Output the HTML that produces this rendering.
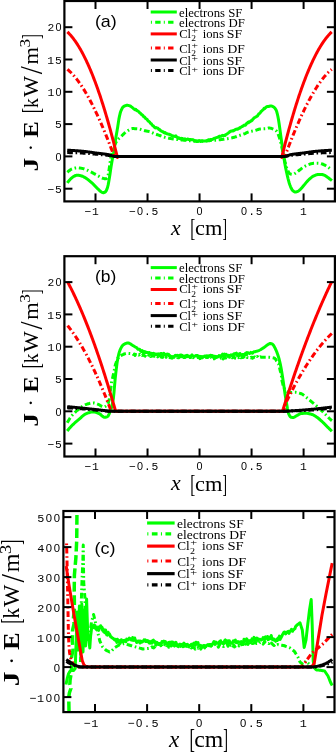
<!DOCTYPE html>
<html><head><meta charset="utf-8"><title>J·E profiles</title>
<style>html,body{margin:0;padding:0;background:#fff;width:336px;height:753px;overflow:hidden}svg{display:block}</style>
</head><body>
<svg width="336" height="753" viewBox="0 0 336 753"><defs><clipPath id="ca"><rect x="64.4" y="1.0" width="270.5" height="200.4"/></clipPath><clipPath id="cb"><rect x="64.4" y="256.2" width="270.5" height="200.3"/></clipPath><clipPath id="cc"><rect x="63.4" y="511.0" width="271.1" height="201.10000000000002"/></clipPath></defs><rect width="336" height="753" fill="#fff"/>
<polyline points="67.30,182.90 67.90,182.09 68.50,181.32 69.10,180.59 69.70,179.91 70.30,179.27 70.90,178.69 71.50,178.15 72.10,177.62 72.70,177.13 73.30,176.68 73.90,176.30 74.50,176.00 75.10,175.75 75.70,175.51 76.30,175.32 76.90,175.22 77.50,175.21 78.10,175.25 78.70,175.32 79.30,175.43 79.90,175.55 80.50,175.68 81.10,175.82 81.70,176.00 82.30,176.22 82.90,176.48 83.50,176.77 84.10,177.09 84.70,177.43 85.30,177.78 85.90,178.14 86.50,178.51 87.10,178.92 87.70,179.35 88.30,179.81 88.90,180.30 89.50,180.80 90.10,181.32 90.70,181.84 91.30,182.38 91.90,182.91 92.50,183.46 93.10,184.03 93.70,184.63 94.30,185.25 94.90,185.87 95.50,186.50 96.10,187.13 96.70,187.74 97.30,188.34 97.90,188.91 98.50,189.47 99.10,190.07 99.70,190.65 100.30,191.19 100.90,191.65 101.50,192.00 102.10,192.28 102.70,192.53 103.30,192.68 103.90,192.67 104.50,192.43 105.10,192.02 105.70,191.50 106.30,190.59 106.90,189.20 107.50,187.50 108.10,185.13 108.70,181.96 109.30,178.50 109.90,174.65 110.50,170.48 111.10,166.61 111.70,162.93 112.30,159.44 112.90,156.26 113.50,153.00 114.10,149.25 114.70,145.24 115.30,141.26 115.90,137.57 116.50,134.06 117.10,130.58 117.70,127.00 118.30,123.02 118.90,119.11 119.50,116.09 120.10,113.55 120.70,111.52 121.30,110.06 121.90,108.78 122.50,107.71 123.10,106.93 123.70,106.48 124.30,106.15 124.90,105.86 125.50,105.62 126.10,105.44 126.70,105.33 127.30,105.30 127.90,105.35 128.50,105.47 129.10,105.62 129.70,105.81 130.30,106.03 130.90,106.47 131.50,106.98 132.10,107.31 132.70,107.91 133.30,108.37 133.90,109.11 134.50,109.29 135.10,109.70 135.70,109.26 136.30,110.39 136.90,110.31 137.50,110.94 138.10,111.18 138.70,111.63 139.30,112.37 139.90,113.00 140.50,113.34 141.10,113.95 141.70,114.73 142.30,114.95 142.90,115.40 143.50,116.52 144.10,116.93 144.70,117.21 145.30,118.07 145.90,118.67 146.50,118.97 147.10,119.42 147.70,120.36 148.30,121.19 148.90,121.47 149.50,121.88 150.10,122.71 150.70,123.36 151.30,123.72 151.90,124.59 152.50,125.41 153.10,125.79 153.70,126.27 154.30,127.14 154.90,127.49 155.50,127.93 156.10,127.47 156.70,127.81 157.30,128.07 157.90,128.21 158.50,129.06 159.10,129.55 159.70,129.58 160.30,130.50 160.90,130.74 161.50,131.09 162.10,131.44 162.70,131.97 163.30,131.77 163.90,132.60 164.50,132.87 165.10,132.53 165.70,133.29 166.30,133.37 166.90,133.87 167.50,133.77 168.10,134.07 168.70,134.32 169.30,134.17 169.90,134.72 170.50,134.80 171.10,135.24 171.70,135.36 172.30,136.12 172.90,136.23 173.50,136.04 174.10,136.17 174.70,136.27 175.30,136.52 175.90,135.91 176.50,136.93 177.10,137.25 177.70,137.49 178.30,137.64 178.90,138.52 179.50,138.12 180.10,138.73 180.70,139.01 181.30,138.39 181.90,138.73 182.50,138.55 183.10,138.99 183.70,139.43 184.30,139.72 184.90,138.86 185.50,139.17 186.10,139.41 186.70,139.53 187.30,139.21 187.90,138.97 188.50,139.39 189.10,139.45 189.70,139.50 190.30,139.42 190.90,139.67 191.50,139.64 192.10,139.59 192.70,139.79 193.30,139.86 193.90,140.42 194.50,141.15 195.10,140.96 195.70,140.68 196.30,141.36 196.90,141.11 197.50,141.50 198.10,140.94 198.70,140.77 199.30,140.46 199.90,141.12 200.50,141.48 201.10,140.71 201.70,140.83 202.30,141.23 202.90,140.87 203.50,140.98 204.10,140.88 204.70,140.94 205.30,141.05 205.90,140.68 206.50,140.88 207.10,140.53 207.70,140.64 208.30,139.84 208.90,139.77 209.50,140.06 210.10,139.48 210.70,139.62 211.30,139.55 211.90,139.62 212.50,139.28 213.10,139.09 213.70,138.58 214.30,138.28 214.90,138.15 215.50,138.08 216.10,137.71 216.70,137.57 217.30,137.40 217.90,137.24 218.50,136.85 219.10,136.23 219.70,136.46 220.30,136.35 220.90,136.35 221.50,136.04 222.10,135.53 222.70,135.35 223.30,135.89 223.90,135.44 224.50,135.55 225.10,135.43 225.70,134.40 226.30,134.36 226.90,134.00 227.50,133.59 228.10,133.16 228.70,132.66 229.30,132.27 229.90,131.47 230.50,131.45 231.10,131.03 231.70,131.03 232.30,130.74 232.90,130.93 233.50,130.78 234.10,130.37 234.70,129.98 235.30,129.63 235.90,129.27 236.50,129.23 237.10,129.06 237.70,129.14 238.30,128.78 238.90,128.60 239.50,127.78 240.10,128.01 240.70,127.28 241.30,126.98 241.90,126.72 242.50,126.23 243.10,126.05 243.70,125.50 244.30,125.12 244.90,124.94 245.50,125.12 246.10,124.29 246.70,123.41 247.30,123.12 247.90,122.23 248.50,122.74 249.10,121.69 249.70,121.97 250.30,121.71 250.90,120.84 251.50,120.74 252.10,120.26 252.70,119.43 253.30,118.71 253.90,118.28 254.50,117.61 255.10,117.32 255.70,116.97 256.30,116.87 256.90,116.10 257.50,116.01 258.10,115.02 258.70,114.04 259.30,113.56 259.90,113.16 260.50,112.36 261.10,111.39 261.70,111.16 262.30,110.36 262.90,109.87 263.50,109.41 264.10,108.36 264.70,108.59 265.30,107.79 265.90,107.40 266.50,106.83 267.10,106.56 267.70,106.48 268.30,106.59 268.90,106.47 269.50,106.20 270.10,106.09 270.70,106.02 271.30,106.00 271.90,106.11 272.50,106.35 273.10,106.69 273.70,107.09 274.30,107.54 274.90,108.17 275.50,109.03 276.10,110.09 276.70,111.55 277.30,113.78 277.90,116.53 278.50,119.63 279.10,123.51 279.70,127.70 280.30,132.22 280.90,136.72 281.50,140.94 282.10,145.10 282.70,149.39 283.30,153.76 283.90,157.79 284.50,161.51 285.10,164.96 285.70,168.10 286.30,171.00 286.90,173.75 287.50,176.39 288.10,178.86 288.70,181.11 289.30,183.22 289.90,185.04 290.50,186.56 291.10,187.97 291.70,189.18 292.30,190.08 292.90,190.68 293.50,191.21 294.10,191.64 294.70,191.92 295.30,192.00 295.90,191.93 296.50,191.78 297.10,191.57 297.70,191.33 298.30,191.05 298.90,190.65 299.50,190.14 300.10,189.58 300.70,189.01 301.30,188.38 301.90,187.70 302.50,186.99 303.10,186.27 303.70,185.57 304.30,184.85 304.90,184.10 305.50,183.35 306.10,182.61 306.70,181.89 307.30,181.22 307.90,180.60 308.50,180.02 309.10,179.45 309.70,178.88 310.30,178.34 310.90,177.81 311.50,177.32 312.10,176.86 312.70,176.45 313.30,176.10 313.90,175.80 314.50,175.54 315.10,175.28 315.70,175.04 316.30,174.83 316.90,174.67 317.50,174.55 318.10,174.49 318.70,174.46 319.30,174.44 319.90,174.42 320.50,174.41 321.10,174.40 321.70,174.43 322.30,174.55 322.90,174.72 323.50,174.95 324.10,175.20 324.70,175.47 325.30,175.74 325.90,176.09 326.50,176.49 327.10,176.93 327.70,177.38 328.30,177.82 328.90,178.26 329.50,178.73 330.10,179.20 330.70,179.68 331.30,180.17 331.90,180.67 331.90,180.67" fill="none" stroke="#00ff00" stroke-width="3.0" stroke-linejoin="round" clip-path="url(#ca)"/>
<polyline points="67.40,172.30 68.00,171.74 68.60,171.21 69.20,170.70 69.80,170.23 70.40,169.82 71.00,169.46 71.60,169.16 72.20,168.93 72.80,168.72 73.40,168.52 74.00,168.34 74.60,168.17 75.20,168.03 75.80,167.92 76.40,167.84 77.00,167.80 77.60,167.81 78.20,167.83 78.80,167.88 79.40,167.95 80.00,168.04 80.60,168.13 81.20,168.24 81.80,168.36 82.40,168.48 83.00,168.60 83.60,168.74 84.20,168.91 84.80,169.12 85.40,169.35 86.00,169.60 86.60,169.87 87.20,170.15 87.80,170.43 88.40,170.73 89.00,171.02 89.60,171.31 90.20,171.59 90.80,171.89 91.40,172.19 92.00,172.50 92.60,172.83 93.20,173.15 93.80,173.49 94.40,173.82 95.00,174.16 95.60,174.50 96.20,174.83 96.80,175.16 97.40,175.49 98.00,175.80 98.60,176.12 99.20,176.47 99.80,176.82 100.40,177.16 101.00,177.49 101.60,177.78 102.20,178.04 102.80,178.25 103.40,178.40 104.00,178.55 104.60,178.68 105.20,178.77 105.80,178.80 106.40,178.64 107.00,178.19 107.60,177.50 108.20,175.18 108.80,171.50 109.40,167.33 110.00,163.00 110.60,159.22 111.20,156.00 111.80,153.50 112.40,151.37 113.00,149.50 113.60,147.82 114.20,146.31 114.80,144.94 115.40,143.64 116.00,142.39 116.60,141.27 117.20,140.37 117.80,139.64 118.40,139.00 119.00,138.43 119.60,137.90 120.20,137.36 120.80,136.80 121.40,136.21 122.00,135.61 122.60,135.01 123.20,134.40 123.80,133.81 124.40,133.25 125.00,132.71 125.60,132.21 126.20,131.77 126.80,131.37 127.40,130.98 128.00,130.58 128.60,130.19 129.20,129.81 129.80,129.46 130.40,129.16 131.00,128.91 131.60,128.73 132.20,128.62 132.80,128.60 133.40,128.61 134.00,128.62 134.60,128.64 135.20,128.67 135.80,128.70 136.40,128.74 137.00,128.78 137.60,128.82 138.20,128.87 138.80,128.93 139.40,129.04 140.00,129.19 140.60,129.37 141.20,129.57 141.80,129.79 142.40,130.00 143.00,130.21 143.60,130.39 144.20,130.55 144.80,130.69 145.40,130.81 146.00,130.93 146.60,131.04 147.20,131.16 147.80,131.28 148.40,131.40 149.00,131.54 149.60,131.69 150.20,131.86 150.80,132.07 151.40,132.31 152.00,132.57 152.60,132.84 153.20,133.12 153.80,133.40 154.40,133.66 155.00,133.90 155.60,134.12 156.20,134.33 156.80,134.54 157.40,134.74 158.00,134.94 158.60,135.13 159.20,135.33 159.80,135.53 160.40,135.74 161.00,135.95 161.60,136.17 162.20,136.39 162.80,136.60 163.40,136.81 164.00,137.01 164.60,137.19 165.20,137.35 165.80,137.51 166.40,137.65 167.00,137.79 167.60,137.92 168.20,138.05 168.80,138.17 169.40,138.29 170.00,138.40 170.60,138.51 171.20,138.61 171.80,138.72 172.40,138.81 173.00,138.91 173.60,139.00 174.20,139.09 174.80,139.17 175.40,139.25 176.00,139.33 176.60,139.41 177.20,139.48 177.80,139.56 178.40,139.63 179.00,139.69 179.60,139.76 180.20,139.82 180.80,139.88 181.40,139.95 182.00,140.01 182.60,140.07 183.20,140.13 183.80,140.18 184.40,140.24 185.00,140.30 185.60,140.35 186.20,140.41 186.80,140.46 187.40,140.51 188.00,140.56 188.60,140.60 189.20,140.65 189.80,140.69 190.40,140.73 191.00,140.77 191.60,140.81 192.20,140.85 192.80,140.90 193.40,140.94 194.00,140.98 194.60,141.02 195.20,141.05 195.80,141.09 196.40,141.12 197.00,141.15 197.60,141.17 198.20,141.18 198.80,141.19 199.40,141.20 200.00,141.20 200.60,141.19 201.20,141.18 201.80,141.16 202.40,141.13 203.00,141.10 203.60,141.07 204.20,141.04 204.80,141.00 205.40,140.96 206.00,140.92 206.60,140.87 207.20,140.83 207.80,140.79 208.40,140.75 209.00,140.71 209.60,140.67 210.20,140.62 210.80,140.58 211.40,140.53 212.00,140.48 212.60,140.43 213.20,140.38 213.80,140.33 214.40,140.27 215.00,140.21 215.60,140.16 216.20,140.10 216.80,140.04 217.40,139.98 218.00,139.91 218.60,139.85 219.20,139.79 219.80,139.73 220.40,139.66 221.00,139.59 221.60,139.52 222.20,139.45 222.80,139.37 223.40,139.29 224.00,139.21 224.60,139.13 225.20,139.04 225.80,138.95 226.40,138.86 227.00,138.77 227.60,138.67 228.20,138.56 228.80,138.46 229.40,138.34 230.00,138.23 230.60,138.11 231.20,137.99 231.80,137.86 232.40,137.72 233.00,137.58 233.60,137.43 234.20,137.27 234.80,137.10 235.40,136.91 236.00,136.71 236.60,136.50 237.20,136.28 237.80,136.06 238.40,135.84 239.00,135.63 239.60,135.43 240.20,135.23 240.80,135.04 241.40,134.84 242.00,134.64 242.60,134.44 243.20,134.23 243.80,134.01 244.40,133.78 245.00,133.53 245.60,133.26 246.20,132.98 246.80,132.70 247.40,132.43 248.00,132.18 248.60,131.96 249.20,131.77 249.80,131.61 250.40,131.47 251.00,131.34 251.60,131.22 252.20,131.10 252.80,130.99 253.40,130.87 254.00,130.75 254.60,130.62 255.20,130.47 255.80,130.30 256.40,130.11 257.00,129.89 257.60,129.68 258.20,129.47 258.80,129.27 259.40,129.11 260.00,128.98 260.60,128.90 261.20,128.85 261.80,128.82 262.40,128.79 263.00,128.77 263.60,128.75 264.20,128.73 264.80,128.71 265.40,128.68 266.00,128.64 266.60,128.59 267.20,128.46 267.80,128.27 268.40,128.09 269.00,128.00 269.60,128.02 270.20,128.11 270.80,128.25 271.40,128.43 272.00,128.64 272.60,128.85 273.20,129.07 273.80,129.31 274.40,129.59 275.00,129.93 275.60,130.33 276.20,130.82 276.80,131.48 277.40,132.53 278.00,133.88 278.60,135.42 279.20,137.07 279.80,139.03 280.40,141.29 281.00,143.74 281.60,146.25 282.20,148.91 282.80,151.77 283.40,154.63 284.00,157.36 284.60,160.10 285.20,162.72 285.80,165.00 286.40,167.00 287.00,168.83 287.60,170.38 288.20,171.57 288.80,172.62 289.40,173.47 290.00,173.90 290.60,174.04 291.20,174.15 291.80,174.23 292.40,174.28 293.00,174.30 293.60,174.18 294.20,173.90 294.80,173.53 295.40,173.19 296.00,172.80 296.60,172.38 297.20,171.91 297.80,171.44 298.40,170.96 299.00,170.50 299.60,170.04 300.20,169.57 300.80,169.08 301.40,168.60 302.00,168.14 302.60,167.70 303.20,167.29 303.80,166.92 304.40,166.56 305.00,166.21 305.60,165.88 306.20,165.57 306.80,165.28 307.40,165.02 308.00,164.80 308.60,164.59 309.20,164.38 309.80,164.18 310.40,163.99 311.00,163.81 311.60,163.65 312.20,163.52 312.80,163.41 313.40,163.33 314.00,163.30 314.60,163.27 315.20,163.25 315.80,163.23 316.40,163.22 317.00,163.21 317.60,163.20 318.20,163.20 318.80,163.24 319.40,163.32 320.00,163.43 320.60,163.56 321.20,163.72 321.80,163.88 322.40,164.04 323.00,164.25 323.60,164.51 324.20,164.81 324.80,165.13 325.40,165.46 326.00,165.80 326.60,166.15 327.20,166.52 327.80,166.91 328.40,167.31 329.00,167.74 329.60,168.17 330.20,168.63 330.80,169.10 331.40,169.60 331.90,170.02" fill="none" stroke="#00ff00" stroke-width="3.0" stroke-linejoin="round" stroke-dasharray="5.7 2.7 1.6 2.7" clip-path="url(#ca)"/>
<polyline points="67.40,31.93 67.90,32.40 68.40,32.90 68.90,33.41 69.40,33.93 69.90,34.47 70.40,35.03 70.90,35.60 71.40,36.19 71.90,36.79 72.40,37.40 72.90,38.04 73.40,38.68 73.90,39.34 74.40,40.02 74.90,40.72 75.40,41.43 75.90,42.15 76.40,42.89 76.90,43.64 77.40,44.42 77.90,45.20 78.40,46.00 78.90,46.82 79.40,47.65 79.90,48.50 80.40,49.37 80.90,50.24 81.40,51.14 81.90,52.05 82.40,52.98 82.90,53.92 83.40,54.88 83.90,55.85 84.40,56.84 84.90,57.84 85.40,58.86 85.90,59.90 86.40,60.95 86.90,62.02 87.40,63.10 87.90,64.20 88.40,65.31 88.90,66.44 89.40,67.59 89.90,68.75 90.40,69.93 90.90,71.12 91.40,72.33 91.90,73.56 92.40,74.80 92.90,76.06 93.40,77.33 93.90,78.62 94.40,79.93 94.90,81.25 95.40,82.59 95.90,83.94 96.40,85.31 96.90,86.69 97.40,88.09 97.90,89.51 98.40,90.94 98.90,92.39 99.40,93.86 99.90,95.34 100.40,96.84 100.90,98.35 101.40,99.88 101.90,101.43 102.40,102.99 102.90,104.57 103.40,106.17 103.90,107.78 104.40,109.40 104.90,111.05 105.40,112.71 105.90,114.38 106.40,116.08 106.90,117.78 107.40,119.51 107.90,121.25 108.40,123.01 108.90,124.78 109.40,126.57 109.90,128.38 110.40,130.20 110.90,132.04 111.40,133.90 111.90,135.77 112.40,137.66 112.90,139.57 113.40,141.49 113.90,143.43 114.40,145.38 114.90,147.35 115.40,149.34 115.90,151.34 116.40,153.37 116.90,155.40 117.40,157.46 118.60,156.40 120.00,156.40 122.00,156.40 124.00,156.40 126.00,156.40 128.00,156.40 130.00,156.40 132.00,156.40 134.00,156.40 136.00,156.40 138.00,156.40 140.00,156.40 142.00,156.40 144.00,156.40 146.00,156.40 148.00,156.40 150.00,156.40 152.00,156.40 154.00,156.40 156.00,156.40 158.00,156.40 160.00,156.40 162.00,156.40 164.00,156.40 166.00,156.40 168.00,156.40 170.00,156.40 172.00,156.40 174.00,156.40 176.00,156.40 178.00,156.40 180.00,156.40 182.00,156.40 184.00,156.40 186.00,156.40 188.00,156.40 190.00,156.40 192.00,156.40 194.00,156.40 196.00,156.40 198.00,156.40 203.10,156.40 205.10,156.40 207.10,156.40 209.10,156.40 211.10,156.40 213.10,156.40 215.10,156.40 217.10,156.40 219.10,156.40 221.10,156.40 223.10,156.40 225.10,156.40 227.10,156.40 229.10,156.40 231.10,156.40 233.10,156.40 235.10,156.40 237.10,156.40 239.10,156.40 241.10,156.40 243.10,156.40 245.10,156.40 247.10,156.40 249.10,156.40 251.10,156.40 253.10,156.40 255.10,156.40 257.10,156.40 259.10,156.40 261.10,156.40 263.10,156.40 265.10,156.40 267.10,156.40 269.10,156.40 271.10,156.40 273.10,156.40 275.10,156.40 277.10,156.40 279.10,156.40 280.50,156.40 281.70,157.46 282.20,155.40 282.70,153.37 283.20,151.34 283.70,149.34 284.20,147.35 284.70,145.38 285.20,143.43 285.70,141.49 286.20,139.57 286.70,137.66 287.20,135.77 287.70,133.90 288.20,132.04 288.70,130.20 289.20,128.38 289.70,126.57 290.20,124.78 290.70,123.01 291.20,121.25 291.70,119.51 292.20,117.78 292.70,116.08 293.20,114.38 293.70,112.71 294.20,111.05 294.70,109.40 295.20,107.78 295.70,106.17 296.20,104.57 296.70,102.99 297.20,101.43 297.70,99.88 298.20,98.35 298.70,96.84 299.20,95.34 299.70,93.86 300.20,92.39 300.70,90.94 301.20,89.51 301.70,88.09 302.20,86.69 302.70,85.31 303.20,83.94 303.70,82.59 304.20,81.25 304.70,79.93 305.20,78.62 305.70,77.33 306.20,76.06 306.70,74.80 307.20,73.56 307.70,72.33 308.20,71.12 308.70,69.93 309.20,68.75 309.70,67.59 310.20,66.44 310.70,65.31 311.20,64.20 311.70,63.10 312.20,62.02 312.70,60.95 313.20,59.90 313.70,58.86 314.20,57.84 314.70,56.84 315.20,55.85 315.70,54.88 316.20,53.92 316.70,52.98 317.20,52.05 317.70,51.14 318.20,50.24 318.70,49.37 319.20,48.50 319.70,47.65 320.20,46.82 320.70,46.00 321.20,45.20 321.70,44.42 322.20,43.64 322.70,42.89 323.20,42.15 323.70,41.43 324.20,40.72 324.70,40.02 325.20,39.34 325.70,38.68 326.20,38.04 326.70,37.40 327.20,36.79 327.70,36.19 328.20,35.60 328.70,35.03 329.20,34.47 329.70,33.93 330.20,33.41 330.70,32.90 331.20,32.40 331.70,31.93" fill="none" stroke="#ff0000" stroke-width="3.0" stroke-linejoin="round" clip-path="url(#ca)"/>
<polyline points="67.40,69.34 67.90,69.75 68.40,70.18 68.90,70.62 69.40,71.07 69.90,71.54 70.40,72.01 70.90,72.51 71.40,73.01 71.90,73.53 72.40,74.06 72.90,74.60 73.40,75.15 73.90,75.72 74.40,76.30 74.90,76.89 75.40,77.50 75.90,78.11 76.40,78.74 76.90,79.38 77.40,80.04 77.90,80.70 78.40,81.38 78.90,82.07 79.40,82.77 79.90,83.48 80.40,84.20 80.90,84.94 81.40,85.68 81.90,86.44 82.40,87.21 82.90,87.99 83.40,88.78 83.90,89.59 84.40,90.40 84.90,91.23 85.40,92.06 85.90,92.91 86.40,93.77 86.90,94.64 87.40,95.52 87.90,96.41 88.40,97.31 88.90,98.22 89.40,99.14 89.90,100.07 90.40,101.01 90.90,101.96 91.40,102.92 91.90,103.90 92.40,104.88 92.90,105.87 93.40,106.87 93.90,107.88 94.40,108.90 94.90,109.94 95.40,110.98 95.90,112.03 96.40,113.08 96.90,114.15 97.40,115.23 97.90,116.32 98.40,117.41 98.90,118.52 99.40,119.63 99.90,120.76 100.40,121.89 100.90,123.03 101.40,124.18 101.90,125.34 102.40,126.50 102.90,127.68 103.40,128.86 103.90,130.06 104.40,131.26 104.90,132.47 105.40,133.68 105.90,134.91 106.40,136.14 106.90,137.38 107.40,138.63 107.90,139.89 108.40,141.15 108.90,142.42 109.40,143.70 109.90,144.99 110.40,146.29 110.90,147.59 111.40,148.90 111.90,150.22 112.40,151.54 112.90,152.87 113.40,154.21 114.80,156.40 116.00,156.40 118.00,156.40 120.00,156.40 122.00,156.40 124.00,156.40 126.00,156.40 128.00,156.40 130.00,156.40 132.00,156.40 134.00,156.40 136.00,156.40 138.00,156.40 140.00,156.40 142.00,156.40 144.00,156.40 146.00,156.40 148.00,156.40 150.00,156.40 152.00,156.40 154.00,156.40 156.00,156.40 158.00,156.40 160.00,156.40 162.00,156.40 164.00,156.40 166.00,156.40 168.00,156.40 170.00,156.40 172.00,156.40 174.00,156.40 176.00,156.40 178.00,156.40 180.00,156.40 182.00,156.40 184.00,156.40 186.00,156.40 188.00,156.40 190.00,156.40 192.00,156.40 194.00,156.40 196.00,156.40 198.00,156.40 203.10,156.40 205.10,156.40 207.10,156.40 209.10,156.40 211.10,156.40 213.10,156.40 215.10,156.40 217.10,156.40 219.10,156.40 221.10,156.40 223.10,156.40 225.10,156.40 227.10,156.40 229.10,156.40 231.10,156.40 233.10,156.40 235.10,156.40 237.10,156.40 239.10,156.40 241.10,156.40 243.10,156.40 245.10,156.40 247.10,156.40 249.10,156.40 251.10,156.40 253.10,156.40 255.10,156.40 257.10,156.40 259.10,156.40 261.10,156.40 263.10,156.40 265.10,156.40 267.10,156.40 269.10,156.40 271.10,156.40 273.10,156.40 275.10,156.40 277.10,156.40 279.10,156.40 281.10,156.40 283.10,156.40 284.30,156.40 285.70,154.21 286.20,152.87 286.70,151.54 287.20,150.22 287.70,148.90 288.20,147.59 288.70,146.29 289.20,144.99 289.70,143.70 290.20,142.42 290.70,141.15 291.20,139.89 291.70,138.63 292.20,137.38 292.70,136.14 293.20,134.91 293.70,133.68 294.20,132.47 294.70,131.26 295.20,130.06 295.70,128.86 296.20,127.68 296.70,126.50 297.20,125.34 297.70,124.18 298.20,123.03 298.70,121.89 299.20,120.76 299.70,119.63 300.20,118.52 300.70,117.41 301.20,116.32 301.70,115.23 302.20,114.15 302.70,113.08 303.20,112.03 303.70,110.98 304.20,109.94 304.70,108.90 305.20,107.88 305.70,106.87 306.20,105.87 306.70,104.88 307.20,103.90 307.70,102.92 308.20,101.96 308.70,101.01 309.20,100.07 309.70,99.14 310.20,98.22 310.70,97.31 311.20,96.41 311.70,95.52 312.20,94.64 312.70,93.77 313.20,92.91 313.70,92.06 314.20,91.23 314.70,90.40 315.20,89.59 315.70,88.78 316.20,87.99 316.70,87.21 317.20,86.44 317.70,85.68 318.20,84.94 318.70,84.20 319.20,83.48 319.70,82.77 320.20,82.07 320.70,81.38 321.20,80.70 321.70,80.04 322.20,79.38 322.70,78.74 323.20,78.11 323.70,77.50 324.20,76.89 324.70,76.30 325.20,75.72 325.70,75.15 326.20,74.60 326.70,74.06 327.20,73.53 327.70,73.01 328.20,72.51 328.70,72.01 329.20,71.54 329.70,71.07 330.20,70.62 330.70,70.18 331.20,69.75 331.70,69.34" fill="none" stroke="#ff0000" stroke-width="3.0" stroke-linejoin="round" stroke-dasharray="5.7 2.7 1.6 2.7" clip-path="url(#ca)"/>
<polyline points="67.20,150.21 67.50,150.22 68.00,150.24 68.50,150.26 69.00,150.28 69.50,150.30 70.00,150.33 70.50,150.35 71.00,150.38 71.50,150.41 72.00,150.44 72.50,150.47 73.00,150.50 73.50,150.53 74.00,150.57 74.50,150.60 75.00,150.64 75.50,150.67 76.00,150.71 76.50,150.75 77.00,150.79 77.50,150.83 78.00,150.87 78.50,150.91 79.00,150.95 79.50,150.99 80.00,151.04 80.50,151.08 81.00,151.12 81.50,151.17 82.00,151.21 82.50,151.26 83.00,151.31 83.50,151.35 84.00,151.40 84.50,151.45 85.00,151.50 85.50,151.56 86.00,151.61 86.50,151.67 87.00,151.74 87.50,151.80 88.00,151.87 88.50,151.93 89.00,152.00 89.50,152.07 90.00,152.15 90.50,152.22 91.00,152.29 91.50,152.36 92.00,152.44 92.50,152.51 93.00,152.58 93.50,152.66 94.00,152.73 94.50,152.80 95.00,152.87 95.50,152.93 96.00,153.00 96.50,153.06 97.00,153.13 97.50,153.19 98.00,153.24 98.50,153.30 99.00,153.36 99.50,153.41 100.00,153.47 100.50,153.52 101.00,153.58 101.50,153.64 102.00,153.69 102.50,153.75 103.00,153.81 103.50,153.87 104.00,153.93 104.50,154.00 105.00,154.07 105.50,154.14 106.00,154.21 106.50,154.28 107.00,154.36 107.50,154.45 108.00,154.54 108.50,154.65 109.00,154.79 109.50,154.94 110.00,155.11 110.50,155.29 111.00,155.47 111.50,155.64 112.00,155.81 112.50,155.97 113.00,156.11 113.50,156.23 114.00,156.32 114.50,156.38 115.00,156.40 115.50,156.40 116.00,156.40 116.50,156.40 117.00,156.40 117.50,156.40 118.00,156.40 120.00,156.40 122.00,156.40 124.00,156.40 126.00,156.40 128.00,156.40 130.00,156.40 132.00,156.40 134.00,156.40 136.00,156.40 138.00,156.40 140.00,156.40 142.00,156.40 144.00,156.40 146.00,156.40 148.00,156.40 150.00,156.40 152.00,156.40 154.00,156.40 156.00,156.40 158.00,156.40 160.00,156.40 162.00,156.40 164.00,156.40 166.00,156.40 168.00,156.40 170.00,156.40 172.00,156.40 174.00,156.40 176.00,156.40 178.00,156.40 180.00,156.40 182.00,156.40 184.00,156.40 186.00,156.40 188.00,156.40 190.00,156.40 192.00,156.40 194.00,156.40 196.00,156.40 198.00,156.40 203.10,156.40 205.10,156.40 207.10,156.40 209.10,156.40 211.10,156.40 213.10,156.40 215.10,156.40 217.10,156.40 219.10,156.40 221.10,156.40 223.10,156.40 225.10,156.40 227.10,156.40 229.10,156.40 231.10,156.40 233.10,156.40 235.10,156.40 237.10,156.40 239.10,156.40 241.10,156.40 243.10,156.40 245.10,156.40 247.10,156.40 249.10,156.40 251.10,156.40 253.10,156.40 255.10,156.40 257.10,156.40 259.10,156.40 261.10,156.40 263.10,156.40 265.10,156.40 267.10,156.40 269.10,156.40 271.10,156.40 273.10,156.40 275.10,156.40 277.10,156.40 279.10,156.40 281.10,156.40 281.60,156.40 282.10,156.40 282.60,156.40 283.10,156.40 283.60,156.40 284.10,156.40 284.60,156.38 285.10,156.32 285.60,156.23 286.10,156.11 286.60,155.97 287.10,155.81 287.60,155.64 288.10,155.47 288.60,155.29 289.10,155.11 289.60,154.94 290.10,154.79 290.60,154.65 291.10,154.54 291.60,154.45 292.10,154.36 292.60,154.28 293.10,154.21 293.60,154.14 294.10,154.07 294.60,154.00 295.10,153.93 295.60,153.87 296.10,153.81 296.60,153.75 297.10,153.69 297.60,153.64 298.10,153.58 298.60,153.52 299.10,153.47 299.60,153.41 300.10,153.36 300.60,153.30 301.10,153.24 301.60,153.19 302.10,153.13 302.60,153.06 303.10,153.00 303.60,152.93 304.10,152.87 304.60,152.80 305.10,152.73 305.60,152.66 306.10,152.58 306.60,152.51 307.10,152.44 307.60,152.36 308.10,152.29 308.60,152.22 309.10,152.15 309.60,152.07 310.10,152.00 310.60,151.93 311.10,151.87 311.60,151.80 312.10,151.74 312.60,151.67 313.10,151.61 313.60,151.56 314.10,151.50 314.60,151.45 315.10,151.40 315.60,151.35 316.10,151.31 316.60,151.26 317.10,151.21 317.60,151.17 318.10,151.12 318.60,151.08 319.10,151.04 319.60,150.99 320.10,150.95 320.60,150.91 321.10,150.87 321.60,150.83 322.10,150.79 322.60,150.75 323.10,150.71 323.60,150.67 324.10,150.64 324.60,150.60 325.10,150.57 325.60,150.53 326.10,150.50 326.60,150.47 327.10,150.44 327.60,150.41 328.10,150.38 328.60,150.35 329.10,150.33 329.60,150.30 330.10,150.28 330.60,150.26 331.10,150.24 331.60,150.22 331.90,150.21" fill="none" stroke="#000000" stroke-width="3.0" stroke-linejoin="round" clip-path="url(#ca)"/>
<polyline points="67.20,152.60 67.50,152.60 68.00,152.61 68.50,152.62 69.00,152.62 69.50,152.63 70.00,152.64 70.50,152.65 71.00,152.66 71.50,152.68 72.00,152.69 72.50,152.70 73.00,152.72 73.50,152.74 74.00,152.75 74.50,152.77 75.00,152.79 75.50,152.81 76.00,152.83 76.50,152.85 77.00,152.87 77.50,152.89 78.00,152.91 78.50,152.93 79.00,152.96 79.50,152.98 80.00,153.00 80.50,153.03 81.00,153.05 81.50,153.07 82.00,153.10 82.50,153.12 83.00,153.15 83.50,153.17 84.00,153.20 84.50,153.23 85.00,153.26 85.50,153.29 86.00,153.32 86.50,153.36 87.00,153.39 87.50,153.43 88.00,153.47 88.50,153.51 89.00,153.56 89.50,153.60 90.00,153.64 90.50,153.69 91.00,153.74 91.50,153.78 92.00,153.83 92.50,153.88 93.00,153.92 93.50,153.97 94.00,154.02 94.50,154.06 95.00,154.11 95.50,154.16 96.00,154.20 96.50,154.24 97.00,154.29 97.50,154.33 98.00,154.37 98.50,154.41 99.00,154.46 99.50,154.50 100.00,154.54 100.50,154.58 101.00,154.63 101.50,154.67 102.00,154.71 102.50,154.76 103.00,154.80 103.50,154.85 104.00,154.90 104.50,154.95 105.00,155.00 105.50,155.05 106.00,155.10 106.50,155.15 107.00,155.21 107.50,155.26 108.00,155.32 108.50,155.40 109.00,155.48 109.50,155.57 110.00,155.67 110.50,155.77 111.00,155.88 111.50,155.98 112.00,156.07 112.50,156.16 113.00,156.24 113.50,156.31 114.00,156.36 114.50,156.39 115.00,156.40 115.50,156.40 116.00,156.40 116.50,156.40 117.00,156.40 117.50,156.40 118.00,156.40 120.00,156.40 122.00,156.40 124.00,156.40 126.00,156.40 128.00,156.40 130.00,156.40 132.00,156.40 134.00,156.40 136.00,156.40 138.00,156.40 140.00,156.40 142.00,156.40 144.00,156.40 146.00,156.40 148.00,156.40 150.00,156.40 152.00,156.40 154.00,156.40 156.00,156.40 158.00,156.40 160.00,156.40 162.00,156.40 164.00,156.40 166.00,156.40 168.00,156.40 170.00,156.40 172.00,156.40 174.00,156.40 176.00,156.40 178.00,156.40 180.00,156.40 182.00,156.40 184.00,156.40 186.00,156.40 188.00,156.40 190.00,156.40 192.00,156.40 194.00,156.40 196.00,156.40 198.00,156.40 203.10,156.40 205.10,156.40 207.10,156.40 209.10,156.40 211.10,156.40 213.10,156.40 215.10,156.40 217.10,156.40 219.10,156.40 221.10,156.40 223.10,156.40 225.10,156.40 227.10,156.40 229.10,156.40 231.10,156.40 233.10,156.40 235.10,156.40 237.10,156.40 239.10,156.40 241.10,156.40 243.10,156.40 245.10,156.40 247.10,156.40 249.10,156.40 251.10,156.40 253.10,156.40 255.10,156.40 257.10,156.40 259.10,156.40 261.10,156.40 263.10,156.40 265.10,156.40 267.10,156.40 269.10,156.40 271.10,156.40 273.10,156.40 275.10,156.40 277.10,156.40 279.10,156.40 281.10,156.40 281.60,156.40 282.10,156.40 282.60,156.40 283.10,156.40 283.60,156.40 284.10,156.40 284.60,156.39 285.10,156.36 285.60,156.31 286.10,156.24 286.60,156.16 287.10,156.07 287.60,155.98 288.10,155.88 288.60,155.77 289.10,155.67 289.60,155.57 290.10,155.48 290.60,155.40 291.10,155.32 291.60,155.26 292.10,155.21 292.60,155.15 293.10,155.10 293.60,155.05 294.10,155.00 294.60,154.95 295.10,154.90 295.60,154.85 296.10,154.80 296.60,154.76 297.10,154.71 297.60,154.67 298.10,154.63 298.60,154.58 299.10,154.54 299.60,154.50 300.10,154.46 300.60,154.41 301.10,154.37 301.60,154.33 302.10,154.29 302.60,154.24 303.10,154.20 303.60,154.16 304.10,154.11 304.60,154.06 305.10,154.02 305.60,153.97 306.10,153.92 306.60,153.88 307.10,153.83 307.60,153.78 308.10,153.74 308.60,153.69 309.10,153.64 309.60,153.60 310.10,153.56 310.60,153.51 311.10,153.47 311.60,153.43 312.10,153.39 312.60,153.36 313.10,153.32 313.60,153.29 314.10,153.26 314.60,153.23 315.10,153.20 315.60,153.17 316.10,153.15 316.60,153.12 317.10,153.10 317.60,153.07 318.10,153.05 318.60,153.03 319.10,153.00 319.60,152.98 320.10,152.96 320.60,152.93 321.10,152.91 321.60,152.89 322.10,152.87 322.60,152.85 323.10,152.83 323.60,152.81 324.10,152.79 324.60,152.77 325.10,152.75 325.60,152.74 326.10,152.72 326.60,152.70 327.10,152.69 327.60,152.68 328.10,152.66 328.60,152.65 329.10,152.64 329.60,152.63 330.10,152.62 330.60,152.62 331.10,152.61 331.60,152.60 331.90,152.60" fill="none" stroke="#000000" stroke-width="3.0" stroke-linejoin="round" stroke-dasharray="5.7 2.7 1.6 2.7" clip-path="url(#ca)"/>
<line x1="95.50" y1="201.4" x2="95.50" y2="193.4" stroke="#000" stroke-width="2"/>
<line x1="95.50" y1="1.0" x2="95.50" y2="9.0" stroke="#000" stroke-width="2"/>
<line x1="147.53" y1="201.4" x2="147.53" y2="193.4" stroke="#000" stroke-width="2"/>
<line x1="147.53" y1="1.0" x2="147.53" y2="9.0" stroke="#000" stroke-width="2"/>
<line x1="199.55" y1="201.4" x2="199.55" y2="193.4" stroke="#000" stroke-width="2"/>
<line x1="199.55" y1="1.0" x2="199.55" y2="9.0" stroke="#000" stroke-width="2"/>
<line x1="251.58" y1="201.4" x2="251.58" y2="193.4" stroke="#000" stroke-width="2"/>
<line x1="251.58" y1="1.0" x2="251.58" y2="9.0" stroke="#000" stroke-width="2"/>
<line x1="303.60" y1="201.4" x2="303.60" y2="193.4" stroke="#000" stroke-width="2"/>
<line x1="303.60" y1="1.0" x2="303.60" y2="9.0" stroke="#000" stroke-width="2"/>
<line x1="64.4" y1="188.70" x2="72.4" y2="188.70" stroke="#000" stroke-width="2"/>
<line x1="334.9" y1="188.70" x2="326.9" y2="188.70" stroke="#000" stroke-width="2"/>
<line x1="64.4" y1="156.40" x2="72.4" y2="156.40" stroke="#000" stroke-width="2"/>
<line x1="334.9" y1="156.40" x2="326.9" y2="156.40" stroke="#000" stroke-width="2"/>
<line x1="64.4" y1="124.10" x2="72.4" y2="124.10" stroke="#000" stroke-width="2"/>
<line x1="334.9" y1="124.10" x2="326.9" y2="124.10" stroke="#000" stroke-width="2"/>
<line x1="64.4" y1="91.80" x2="72.4" y2="91.80" stroke="#000" stroke-width="2"/>
<line x1="334.9" y1="91.80" x2="326.9" y2="91.80" stroke="#000" stroke-width="2"/>
<line x1="64.4" y1="59.50" x2="72.4" y2="59.50" stroke="#000" stroke-width="2"/>
<line x1="334.9" y1="59.50" x2="326.9" y2="59.50" stroke="#000" stroke-width="2"/>
<line x1="64.4" y1="27.20" x2="72.4" y2="27.20" stroke="#000" stroke-width="2"/>
<line x1="334.9" y1="27.20" x2="326.9" y2="27.20" stroke="#000" stroke-width="2"/>
<rect x="64.4" y="1.0" width="270.50" height="200.40" fill="none" stroke="#000" stroke-width="2.2"/>
<text y="214.80" style="font-family:'Liberation Mono',monospace;font-size:11.3px"><tspan x="84.61">&#8722;</tspan><tspan x="91.97">1</tspan></text>
<text y="214.80" style="font-family:'Liberation Mono',monospace;font-size:11.3px"><tspan x="129.09">&#8722;</tspan><tspan x="136.97" style="font-family:'Liberation Sans',sans-serif;font-size:10.80px">0</tspan><tspan x="144.09">.</tspan><tspan x="151.59">5</tspan></text>
<text y="214.80" style="font-family:'Liberation Mono',monospace;font-size:11.3px"><tspan x="196.55" style="font-family:'Liberation Sans',sans-serif;font-size:10.80px">0</tspan></text>
<text y="214.80" style="font-family:'Liberation Mono',monospace;font-size:11.3px"><tspan x="241.02" style="font-family:'Liberation Sans',sans-serif;font-size:10.80px">0</tspan><tspan x="248.14">.</tspan><tspan x="255.64">5</tspan></text>
<text y="214.80" style="font-family:'Liberation Mono',monospace;font-size:11.3px"><tspan x="300.07">1</tspan></text>
<text y="192.90" style="font-family:'Liberation Mono',monospace;font-size:11.3px"><tspan x="47.43">&#8722;</tspan><tspan x="54.94">5</tspan></text>
<text y="160.60" style="font-family:'Liberation Mono',monospace;font-size:11.3px"><tspan x="55.41" style="font-family:'Liberation Sans',sans-serif;font-size:10.80px">0</tspan></text>
<text y="128.30" style="font-family:'Liberation Mono',monospace;font-size:11.3px"><tspan x="54.94">5</tspan></text>
<text y="96.00" style="font-family:'Liberation Mono',monospace;font-size:11.3px"><tspan x="47.39">1</tspan><tspan x="55.41" style="font-family:'Liberation Sans',sans-serif;font-size:10.80px">0</tspan></text>
<text y="63.70" style="font-family:'Liberation Mono',monospace;font-size:11.3px"><tspan x="47.30">1</tspan><tspan x="54.94">5</tspan></text>
<text y="31.40" style="font-family:'Liberation Mono',monospace;font-size:11.3px"><tspan x="47.53">2</tspan><tspan x="55.41" style="font-family:'Liberation Sans',sans-serif;font-size:10.80px">0</tspan></text>
<polyline points="67.20,431.00 67.80,430.25 68.40,429.52 69.00,428.80 69.60,428.10 70.20,427.42 70.80,426.75 71.40,426.11 72.00,425.50 72.60,424.91 73.20,424.34 73.80,423.78 74.40,423.24 75.00,422.71 75.60,422.20 76.20,421.69 76.80,421.18 77.40,420.68 78.00,420.18 78.60,419.68 79.20,419.17 79.80,418.64 80.40,418.09 81.00,417.53 81.60,416.97 82.20,416.43 82.80,415.91 83.40,415.41 84.00,414.95 84.60,414.54 85.20,414.18 85.80,413.88 86.40,413.64 87.00,413.41 87.60,413.18 88.20,412.96 88.80,412.75 89.40,412.56 90.00,412.39 90.60,412.23 91.20,412.11 91.80,412.01 92.40,411.94 93.00,411.90 93.60,411.91 94.20,411.97 94.80,412.07 95.40,412.21 96.00,412.38 96.60,412.58 97.20,412.79 97.80,413.02 98.40,413.26 99.00,413.50 99.60,413.81 100.20,414.23 100.80,414.73 101.40,415.27 102.00,415.81 102.60,416.32 103.20,416.76 103.80,417.09 104.40,417.28 105.00,417.29 105.60,417.20 106.20,417.04 106.80,416.82 107.40,416.55 108.00,416.07 108.60,415.16 109.20,413.93 109.80,412.50 110.40,410.98 111.00,409.23 111.60,407.15 112.20,404.67 112.80,401.73 113.40,398.15 114.00,392.43 114.60,385.40 115.20,378.57 115.80,373.10 116.40,368.03 117.00,363.38 117.60,359.47 118.20,356.52 118.80,354.03 119.40,351.93 120.00,350.21 120.60,348.85 121.20,347.64 121.80,346.57 122.40,345.69 123.00,345.03 123.60,344.61 124.20,344.24 124.80,343.91 125.40,343.61 126.00,343.37 126.60,343.18 127.20,343.05 127.80,343.00 128.40,343.04 129.00,343.20 129.60,343.45 130.20,343.77 130.80,344.14 131.40,344.54 132.00,344.95 132.60,345.34 133.20,345.70 133.80,346.05 134.40,346.42 135.00,346.81 135.60,347.09 136.20,347.32 136.80,347.91 137.40,348.59 138.00,349.34 138.60,349.31 139.20,349.29 139.80,349.44 140.40,350.57 141.00,351.35 141.60,351.02 142.20,350.62 142.80,351.22 143.40,352.99 144.00,352.50 144.60,351.55 145.20,352.54 145.80,352.01 146.40,352.45 147.00,352.59 147.60,352.47 148.20,353.08 148.80,352.72 149.40,352.53 150.00,353.45 150.60,354.25 151.20,353.36 151.80,354.31 152.40,353.83 153.00,354.04 153.60,353.23 154.20,353.92 154.80,353.99 155.40,354.07 156.00,353.92 156.60,354.55 157.20,354.24 157.80,354.01 158.40,354.74 159.00,353.88 159.60,355.12 160.20,354.95 160.80,353.48 161.40,354.63 162.00,353.70 162.60,354.17 163.20,354.18 163.80,353.22 164.40,354.46 165.00,354.73 165.60,355.55 166.20,354.35 166.80,355.30 167.40,354.17 168.00,354.58 168.60,354.38 169.20,355.80 169.80,355.55 170.40,356.84 171.00,356.25 171.60,356.78 172.20,357.13 172.80,356.54 173.40,356.80 174.00,357.31 174.60,355.95 175.20,355.99 175.80,355.63 176.40,355.83 177.00,355.24 177.60,355.41 178.20,355.74 178.80,355.83 179.40,355.43 180.00,356.40 180.60,355.06 181.20,355.11 181.80,355.19 182.40,356.69 183.00,356.21 183.60,355.99 184.20,355.92 184.80,356.69 185.40,355.82 186.00,355.59 186.60,356.44 187.20,355.33 187.80,355.79 188.40,356.18 189.00,356.22 189.60,356.69 190.20,357.53 190.80,356.29 191.40,355.50 192.00,354.94 192.60,355.86 193.20,356.00 193.80,356.51 194.40,356.27 195.00,356.08 195.60,355.62 196.20,355.42 196.80,355.66 197.40,355.42 198.00,356.00 198.60,357.44 199.20,357.12 199.80,356.28 200.40,358.31 201.00,357.63 201.60,356.87 202.20,357.83 202.80,357.22 203.40,356.70 204.00,356.49 204.60,356.05 205.20,356.39 205.80,356.81 206.40,355.95 207.00,356.45 207.60,357.37 208.20,355.78 208.80,356.55 209.40,356.08 210.00,355.42 210.60,355.30 211.20,355.76 211.80,356.11 212.40,355.63 213.00,355.98 213.60,356.38 214.20,356.18 214.80,356.52 215.40,356.37 216.00,356.48 216.60,357.36 217.20,356.76 217.80,356.58 218.40,356.80 219.00,355.61 219.60,355.63 220.20,355.96 220.80,355.70 221.40,356.07 222.00,355.10 222.60,354.15 223.20,355.86 223.80,355.27 224.40,354.15 225.00,355.65 225.60,355.14 226.20,354.26 226.80,355.17 227.40,355.20 228.00,356.47 228.60,355.31 229.20,355.67 229.80,355.56 230.40,355.34 231.00,354.80 231.60,355.20 232.20,355.50 232.80,355.16 233.40,354.19 234.00,353.81 234.60,354.24 235.20,353.59 235.80,353.56 236.40,353.11 237.00,355.36 237.60,355.03 238.20,354.19 238.80,355.35 239.40,355.62 240.00,353.51 240.60,354.42 241.20,354.46 241.80,354.99 242.40,354.57 243.00,354.54 243.60,354.55 244.20,355.35 244.80,355.26 245.40,353.49 246.00,353.02 246.60,354.81 247.20,352.63 247.80,352.73 248.40,352.94 249.00,353.15 249.60,353.45 250.20,353.12 250.80,352.41 251.40,353.05 252.00,352.80 252.60,353.13 253.20,352.28 253.80,351.85 254.40,351.79 255.00,351.71 255.60,351.55 256.20,351.38 256.80,351.20 257.40,351.00 258.00,350.80 258.60,350.57 259.20,350.31 259.80,350.02 260.40,349.71 261.00,349.37 261.60,349.01 262.20,348.65 262.80,348.27 263.40,347.89 264.00,347.50 264.60,347.08 265.20,346.61 265.80,346.12 266.40,345.63 267.00,345.16 267.60,344.74 268.20,344.39 268.80,344.02 269.40,343.70 270.00,343.51 270.60,343.53 271.20,343.66 271.80,343.87 272.40,344.15 273.00,344.61 273.60,345.42 274.20,346.47 274.80,347.62 275.40,348.79 276.00,350.09 276.60,351.54 277.20,353.12 277.80,354.84 278.40,356.68 279.00,358.72 279.60,361.05 280.20,363.65 280.80,366.50 281.40,369.79 282.00,373.46 282.60,377.27 283.20,381.17 283.80,385.34 284.40,389.58 285.00,393.72 285.60,397.57 286.20,401.12 286.80,404.79 287.40,408.30 288.00,411.36 288.60,413.64 289.20,414.99 289.80,416.04 290.40,416.81 291.00,417.20 291.60,417.34 292.20,417.45 292.80,417.50 293.40,417.46 294.00,417.28 294.60,416.98 295.20,416.61 295.80,416.21 296.40,415.83 297.00,415.50 297.60,415.19 298.20,414.85 298.80,414.50 299.40,414.18 300.00,413.89 300.60,413.66 301.20,413.52 301.80,413.47 302.40,413.43 303.00,413.39 303.60,413.36 304.20,413.33 304.80,413.32 305.40,413.30 306.00,413.30 306.60,413.32 307.20,413.37 307.80,413.44 308.40,413.54 309.00,413.66 309.60,413.80 310.20,413.96 310.80,414.12 311.40,414.29 312.00,414.46 312.60,414.68 313.20,414.95 313.80,415.26 314.40,415.60 315.00,415.97 315.60,416.36 316.20,416.76 316.80,417.17 317.40,417.58 318.00,418.02 318.60,418.48 319.20,418.98 319.80,419.49 320.40,420.02 321.00,420.56 321.60,421.10 322.20,421.65 322.80,422.22 323.40,422.80 324.00,423.41 324.60,424.03 325.20,424.65 325.80,425.28 326.40,425.90 327.00,426.50 327.60,427.09 328.20,427.68 328.80,428.26 329.40,428.84 330.00,429.42 330.60,430.01 331.20,430.60 331.80,431.20 331.90,431.30" fill="none" stroke="#00ff00" stroke-width="3.0" stroke-linejoin="round" clip-path="url(#cb)"/>
<polyline points="67.20,422.70 67.80,421.67 68.40,420.67 69.00,419.70 69.60,418.76 70.20,417.87 70.80,417.03 71.40,416.23 72.00,415.50 72.60,414.81 73.20,414.15 73.80,413.52 74.40,412.92 75.00,412.34 75.60,411.78 76.20,411.25 76.80,410.73 77.40,410.23 78.00,409.75 78.60,409.28 79.20,408.81 79.80,408.35 80.40,407.89 81.00,407.43 81.60,406.98 82.20,406.55 82.80,406.15 83.40,405.76 84.00,405.41 84.60,405.09 85.20,404.81 85.80,404.57 86.40,404.37 87.00,404.17 87.60,403.98 88.20,403.80 88.80,403.62 89.40,403.46 90.00,403.31 90.60,403.18 91.20,403.07 91.80,402.99 92.40,402.93 93.00,402.90 93.60,402.91 94.20,402.99 94.80,403.12 95.40,403.29 96.00,403.50 96.60,403.73 97.20,403.98 97.80,404.23 98.40,404.46 99.00,404.72 99.60,405.04 100.20,405.41 100.80,405.80 101.40,406.18 102.00,406.51 102.60,406.78 103.20,406.95 103.80,407.00 104.40,406.88 105.00,406.60 105.60,406.22 106.20,405.75 106.80,405.21 107.40,404.42 108.00,403.32 108.60,401.87 109.20,399.88 109.80,395.70 110.40,390.64 111.00,386.72 111.60,382.02 112.20,379.50 112.80,377.05 113.40,374.44 114.00,371.09 114.60,368.97 115.20,365.56 115.80,363.80 116.40,361.73 117.00,359.41 117.60,358.40 118.20,358.09 118.80,357.13 119.40,356.84 120.00,356.19 120.60,355.76 121.20,355.41 121.80,355.10 122.40,354.81 123.00,354.52 123.60,354.25 124.20,354.01 124.80,353.79 125.40,353.62 126.00,353.49 126.60,353.41 127.20,353.40 127.80,353.41 128.40,353.44 129.00,353.48 129.60,353.53 130.20,353.58 130.80,353.74 131.40,353.68 132.00,353.85 132.60,353.84 133.20,354.38 133.80,354.32 134.40,354.08 135.00,355.52 135.60,354.54 136.20,354.69 136.80,354.86 137.40,355.45 138.00,354.57 138.60,354.99 139.20,354.82 139.80,354.22 140.40,355.35 141.00,355.62 141.60,355.26 142.20,355.50 142.80,354.90 143.40,354.92 144.00,355.46 144.60,356.08 145.20,355.91 145.80,356.58 146.40,357.10 147.00,356.71 147.60,356.77 148.20,356.94 148.80,355.62 149.40,356.51 150.00,355.42 150.60,356.54 151.20,356.38 151.80,355.89 152.40,355.52 153.00,355.95 153.60,355.91 154.20,356.34 154.80,356.03 155.40,356.67 156.00,355.83 156.60,356.05 157.20,355.98 157.80,356.84 158.40,355.81 159.00,356.57 159.60,357.51 160.20,356.85 160.80,356.61 161.40,357.25 162.00,356.93 162.60,357.35 163.20,356.41 163.80,356.80 164.40,356.94 165.00,357.04 165.60,356.08 166.20,357.29 166.80,356.35 167.40,356.20 168.00,356.60 168.60,357.28 169.20,357.15 169.80,357.61 170.40,357.78 171.00,357.77 171.60,357.47 172.20,358.14 172.80,355.92 173.40,355.71 174.00,356.04 174.60,355.77 175.20,355.44 175.80,356.54 176.40,356.80 177.00,356.18 177.60,357.68 178.20,357.86 178.80,357.74 179.40,356.75 180.00,356.78 180.60,356.05 181.20,356.63 181.80,356.37 182.40,357.05 183.00,356.91 183.60,357.58 184.20,357.46 184.80,357.55 185.40,356.19 186.00,355.94 186.60,356.71 187.20,356.02 187.80,356.26 188.40,356.18 189.00,356.31 189.60,356.94 190.20,357.09 190.80,357.33 191.40,356.86 192.00,358.12 192.60,357.32 193.20,357.65 193.80,357.22 194.40,357.70 195.00,357.39 195.60,357.70 196.20,357.82 196.80,357.48 197.40,357.40 198.00,357.43 198.60,357.34 199.20,356.97 199.80,358.58 200.40,357.17 201.00,357.39 201.60,358.41 202.20,356.60 202.80,356.91 203.40,356.70 204.00,356.39 204.60,356.14 205.20,356.36 205.80,357.24 206.40,357.47 207.00,356.20 207.60,357.14 208.20,356.66 208.80,357.30 209.40,356.95 210.00,356.55 210.60,356.93 211.20,357.45 211.80,358.43 212.40,359.66 213.00,358.76 213.60,358.74 214.20,358.82 214.80,358.11 215.40,357.95 216.00,357.47 216.60,357.16 217.20,356.84 217.80,357.36 218.40,357.79 219.00,357.48 219.60,358.25 220.20,358.13 220.80,357.76 221.40,358.72 222.00,357.48 222.60,358.54 223.20,358.93 223.80,357.99 224.40,357.97 225.00,358.12 225.60,358.03 226.20,357.24 226.80,356.97 227.40,357.26 228.00,357.05 228.60,356.51 229.20,357.07 229.80,357.20 230.40,356.61 231.00,357.50 231.60,357.08 232.20,357.78 232.80,356.79 233.40,356.99 234.00,356.66 234.60,357.92 235.20,358.03 235.80,358.34 236.40,358.54 237.00,358.36 237.60,358.27 238.20,356.90 238.80,357.60 239.40,357.03 240.00,356.98 240.60,356.55 241.20,357.75 241.80,357.29 242.40,356.56 243.00,357.41 243.60,357.02 244.20,356.44 244.80,356.70 245.40,356.54 246.00,355.92 246.60,356.39 247.20,357.42 247.80,357.51 248.40,357.59 249.00,357.01 249.60,357.26 250.20,357.51 250.80,357.76 251.40,357.14 252.00,357.13 252.60,358.20 253.20,357.67 253.80,357.37 254.40,357.06 255.00,356.97 255.60,357.89 256.20,357.57 256.80,356.95 257.40,356.50 258.00,357.74 258.60,357.52 259.20,357.30 259.80,357.23 260.40,356.81 261.00,357.09 261.60,357.28 262.20,357.22 262.80,357.21 263.40,357.21 264.00,357.21 264.60,357.20 265.20,357.20 265.80,357.20 266.40,357.20 267.00,357.21 267.60,357.23 268.20,357.26 268.80,357.29 269.40,357.34 270.00,357.39 270.60,357.46 271.20,357.53 271.80,357.62 272.40,357.72 273.00,357.83 273.60,357.95 274.20,358.08 274.80,358.36 275.40,358.98 276.00,359.84 276.60,361.04 277.20,361.83 277.80,363.48 278.40,363.91 279.00,365.46 279.60,367.91 280.20,370.79 280.80,372.56 281.40,375.71 282.00,380.95 282.60,383.07 283.20,386.19 283.80,387.27 284.40,388.50 285.00,389.45 285.60,390.17 286.20,390.64 286.80,391.15 287.40,391.60 288.00,391.99 288.60,392.29 289.20,392.49 289.80,392.59 290.40,392.59 291.00,392.57 291.60,392.53 292.20,392.48 292.80,392.43 293.40,392.38 294.00,392.34 294.60,392.31 295.20,392.30 295.80,392.32 296.40,392.38 297.00,392.47 297.60,392.59 298.20,392.74 298.80,392.91 299.40,393.09 300.00,393.30 300.60,393.51 301.20,393.73 301.80,393.97 302.40,394.29 303.00,394.68 303.60,395.12 304.20,395.59 304.80,396.10 305.40,396.60 306.00,397.10 306.60,397.58 307.20,398.05 307.80,398.53 308.40,399.03 309.00,399.53 309.60,400.03 310.20,400.54 310.80,401.05 311.40,401.56 312.00,402.07 312.60,402.58 313.20,403.09 313.80,403.60 314.40,404.12 315.00,404.64 315.60,405.16 316.20,405.69 316.80,406.22 317.40,406.76 318.00,407.30 318.60,407.84 319.20,408.39 319.80,408.94 320.40,409.50 321.00,410.06 321.60,410.63 322.20,411.20 322.80,411.78 323.40,412.38 324.00,412.98 324.60,413.58 325.20,414.19 325.80,414.80 326.40,415.40 327.00,416.00 327.60,416.61 328.20,417.23 328.80,417.84 329.40,418.44 330.00,419.03 330.60,419.60 331.20,420.15 331.80,420.70 331.90,420.78" fill="none" stroke="#00ff00" stroke-width="3.0" stroke-linejoin="round" stroke-dasharray="5.7 2.7 1.6 2.7" clip-path="url(#cb)"/>
<polyline points="67.60,281.93 68.10,282.86 68.60,283.81 69.10,284.76 69.60,285.72 70.10,286.69 70.60,287.67 71.10,288.66 71.60,289.66 72.10,290.66 72.60,291.68 73.10,292.70 73.60,293.73 74.10,294.77 74.60,295.82 75.10,296.88 75.60,297.94 76.10,299.02 76.60,300.10 77.10,301.19 77.60,302.29 78.10,303.40 78.60,304.52 79.10,305.65 79.60,306.78 80.10,307.92 80.60,309.08 81.10,310.24 81.60,311.41 82.10,312.59 82.60,313.77 83.10,314.97 83.60,316.17 84.10,317.39 84.60,318.61 85.10,319.84 85.60,321.08 86.10,322.33 86.60,323.58 87.10,324.85 87.60,326.12 88.10,327.40 88.60,328.69 89.10,329.99 89.60,331.30 90.10,332.62 90.60,333.94 91.10,335.28 91.60,336.62 92.10,337.97 92.60,339.33 93.10,340.70 93.60,342.08 94.10,343.47 94.60,344.86 95.10,346.27 95.60,347.68 96.10,349.10 96.60,350.53 97.10,351.97 97.60,353.41 98.10,354.87 98.60,356.33 99.10,357.81 99.60,359.29 100.10,360.78 100.60,362.28 101.10,363.78 101.60,365.30 102.10,366.83 102.60,368.36 103.10,369.90 103.60,371.45 104.10,373.01 104.60,374.58 105.10,376.16 105.60,377.74 106.10,379.34 106.60,380.94 107.10,382.55 107.60,384.17 108.10,385.80 108.60,387.44 109.10,389.08 109.60,390.74 110.10,392.40 110.60,394.07 111.10,395.75 111.60,397.44 112.10,399.14 112.60,400.85 113.10,402.56 113.60,404.29 114.10,406.02 114.60,407.76 115.10,409.51 115.60,411.27 116.60,411.30 118.00,411.30 120.00,411.30 122.00,411.30 124.00,411.30 126.00,411.30 128.00,411.30 130.00,411.30 132.00,411.30 134.00,411.30 136.00,411.30 138.00,411.30 140.00,411.30 142.00,411.30 144.00,411.30 146.00,411.30 148.00,411.30 150.00,411.30 152.00,411.30 154.00,411.30 156.00,411.30 158.00,411.30 160.00,411.30 162.00,411.30 164.00,411.30 166.00,411.30 168.00,411.30 170.00,411.30 172.00,411.30 174.00,411.30 176.00,411.30 178.00,411.30 180.00,411.30 182.00,411.30 184.00,411.30 186.00,411.30 188.00,411.30 190.00,411.30 192.00,411.30 194.00,411.30 196.00,411.30 198.00,411.30 201.10,411.30 203.10,411.30 205.10,411.30 207.10,411.30 209.10,411.30 211.10,411.30 213.10,411.30 215.10,411.30 217.10,411.30 219.10,411.30 221.10,411.30 223.10,411.30 225.10,411.30 227.10,411.30 229.10,411.30 231.10,411.30 233.10,411.30 235.10,411.30 237.10,411.30 239.10,411.30 241.10,411.30 243.10,411.30 245.10,411.30 247.10,411.30 249.10,411.30 251.10,411.30 253.10,411.30 255.10,411.30 257.10,411.30 259.10,411.30 261.10,411.30 263.10,411.30 265.10,411.30 267.10,411.30 269.10,411.30 271.10,411.30 273.10,411.30 275.10,411.30 277.10,411.30 279.10,411.30 281.10,411.30 282.30,411.30 283.30,408.72 283.80,407.13 284.30,405.54 284.80,403.96 285.30,402.38 285.80,400.81 286.30,399.25 286.80,397.69 287.30,396.14 287.80,394.59 288.30,393.05 288.80,391.51 289.30,389.98 289.80,388.46 290.30,386.94 290.80,385.43 291.30,383.93 291.80,382.43 292.30,380.94 292.80,379.45 293.30,377.97 293.80,376.49 294.30,375.02 294.80,373.56 295.30,372.10 295.80,370.65 296.30,369.20 296.80,367.76 297.30,366.32 297.80,364.90 298.30,363.47 298.80,362.06 299.30,360.65 299.80,359.24 300.30,357.84 300.80,356.45 301.30,355.06 301.80,353.68 302.30,352.30 302.80,350.93 303.30,349.57 303.80,348.21 304.30,346.86 304.80,345.51 305.30,344.17 305.80,342.84 306.30,341.51 306.80,340.19 307.30,338.87 307.80,337.56 308.30,336.26 308.80,334.96 309.30,333.67 309.80,332.38 310.30,331.10 310.80,329.82 311.30,328.55 311.80,327.29 312.30,326.03 312.80,324.78 313.30,323.53 313.80,322.29 314.30,321.06 314.80,319.83 315.30,318.61 315.80,317.39 316.30,316.18 316.80,314.98 317.30,313.78 317.80,312.59 318.30,311.40 318.80,310.22 319.30,309.04 319.80,307.88 320.30,306.71 320.80,305.56 321.30,304.40 321.80,303.26 322.30,302.12 322.80,300.98 323.30,299.86 323.80,298.74 324.30,297.62 324.80,296.51 325.30,295.40 325.80,294.31 326.30,293.21 326.80,292.13 327.30,291.05 327.80,289.97 328.30,288.90 328.80,287.84 329.30,286.78 329.80,285.73 330.30,284.69 330.80,283.65 331.30,282.61 331.80,281.59 331.90,281.38" fill="none" stroke="#ff0000" stroke-width="3.0" stroke-linejoin="round" clip-path="url(#cb)"/>
<polyline points="67.60,325.62 68.10,326.24 68.60,326.86 69.10,327.50 69.60,328.15 70.10,328.80 70.60,329.46 71.10,330.13 71.60,330.81 72.10,331.50 72.60,332.19 73.10,332.90 73.60,333.61 74.10,334.33 74.60,335.06 75.10,335.80 75.60,336.54 76.10,337.30 76.60,338.06 77.10,338.83 77.60,339.61 78.10,340.40 78.60,341.20 79.10,342.00 79.60,342.81 80.10,343.64 80.60,344.47 81.10,345.30 81.60,346.15 82.10,347.01 82.60,347.87 83.10,348.74 83.60,349.62 84.10,350.51 84.60,351.41 85.10,352.31 85.60,353.23 86.10,354.15 86.60,355.08 87.10,356.02 87.60,356.97 88.10,357.92 88.60,358.89 89.10,359.86 89.60,360.84 90.10,361.83 90.60,362.83 91.10,363.84 91.60,364.85 92.10,365.87 92.60,366.91 93.10,367.95 93.60,368.99 94.10,370.05 94.60,371.12 95.10,372.19 95.60,373.27 96.10,374.36 96.60,375.46 97.10,376.57 97.60,377.68 98.10,378.81 98.60,379.94 99.10,381.08 99.60,382.23 100.10,383.39 100.60,384.55 101.10,385.73 101.60,386.91 102.10,388.10 102.60,389.30 103.10,390.51 103.60,391.73 104.10,392.95 104.60,394.19 105.10,395.43 105.60,396.68 106.10,397.94 106.60,399.20 107.10,400.48 107.60,401.76 108.10,403.05 108.60,404.35 109.10,405.66 109.60,406.98 110.10,408.31 110.60,409.64 111.40,411.30 113.00,411.30 115.00,411.30 117.00,411.30 119.00,411.30 121.00,411.30 123.00,411.30 125.00,411.30 127.00,411.30 129.00,411.30 131.00,411.30 133.00,411.30 135.00,411.30 137.00,411.30 139.00,411.30 141.00,411.30 143.00,411.30 145.00,411.30 147.00,411.30 149.00,411.30 151.00,411.30 153.00,411.30 155.00,411.30 157.00,411.30 159.00,411.30 161.00,411.30 163.00,411.30 165.00,411.30 167.00,411.30 169.00,411.30 171.00,411.30 173.00,411.30 175.00,411.30 177.00,411.30 179.00,411.30 181.00,411.30 183.00,411.30 185.00,411.30 187.00,411.30 189.00,411.30 191.00,411.30 193.00,411.30 195.00,411.30 197.00,411.30 199.00,411.30 200.10,411.30 202.10,411.30 204.10,411.30 206.10,411.30 208.10,411.30 210.10,411.30 212.10,411.30 214.10,411.30 216.10,411.30 218.10,411.30 220.10,411.30 222.10,411.30 224.10,411.30 226.10,411.30 228.10,411.30 230.10,411.30 232.10,411.30 234.10,411.30 236.10,411.30 238.10,411.30 240.10,411.30 242.10,411.30 244.10,411.30 246.10,411.30 248.10,411.30 250.10,411.30 252.10,411.30 254.10,411.30 256.10,411.30 258.10,411.30 260.10,411.30 262.10,411.30 264.10,411.30 266.10,411.30 268.10,411.30 270.10,411.30 272.10,411.30 274.10,411.30 276.10,411.30 278.10,411.30 280.10,411.30 282.10,411.30 283.80,411.30 285.50,403.63 286.00,402.59 286.50,401.56 287.00,400.53 287.50,399.51 288.00,398.50 288.50,397.49 289.00,396.49 289.50,395.49 290.00,394.50 290.50,393.52 291.00,392.54 291.50,391.57 292.00,390.60 292.50,389.64 293.00,388.69 293.50,387.74 294.00,386.80 294.50,385.87 295.00,384.94 295.50,384.02 296.00,383.10 296.50,382.19 297.00,381.29 297.50,380.39 298.00,379.50 298.50,378.61 299.00,377.73 299.50,376.86 300.00,375.99 300.50,375.13 301.00,374.28 301.50,373.43 302.00,372.59 302.50,371.75 303.00,370.92 303.50,370.10 304.00,369.28 304.50,368.47 305.00,367.66 305.50,366.87 306.00,366.07 306.50,365.29 307.00,364.50 307.50,363.73 308.00,362.96 308.50,362.20 309.00,361.44 309.50,360.69 310.00,359.95 310.50,359.21 311.00,358.48 311.50,357.76 312.00,357.04 312.50,356.32 313.00,355.62 313.50,354.92 314.00,354.22 314.50,353.53 315.00,352.85 315.50,352.17 316.00,351.50 316.50,350.84 317.00,350.18 317.50,349.53 318.00,348.89 318.50,348.25 319.00,347.61 319.50,346.99 320.00,346.37 320.50,345.75 321.00,345.14 321.50,344.54 322.00,343.94 322.50,343.35 323.00,342.77 323.50,342.19 324.00,341.62 324.50,341.06 325.00,340.50 325.50,339.94 326.00,339.40 326.50,338.86 327.00,338.32 327.50,337.79 328.00,337.27 328.50,336.75 329.00,336.24 329.50,335.74 330.00,335.24 330.50,334.75 331.00,334.27 331.50,333.79 331.90,333.41" fill="none" stroke="#ff0000" stroke-width="3.0" stroke-linejoin="round" stroke-dasharray="5.7 2.7 1.6 2.7" clip-path="url(#cb)"/>
<polyline points="67.20,406.62 67.50,406.65 68.00,406.70 68.50,406.75 69.00,406.79 69.50,406.84 70.00,406.89 70.50,406.94 71.00,406.99 71.50,407.04 72.00,407.09 72.50,407.14 73.00,407.19 73.50,407.24 74.00,407.28 74.50,407.33 75.00,407.38 75.50,407.43 76.00,407.48 76.50,407.53 77.00,407.58 77.50,407.63 78.00,407.69 78.50,407.74 79.00,407.79 79.50,407.84 80.00,407.89 80.50,407.94 81.00,407.99 81.50,408.04 82.00,408.09 82.50,408.14 83.00,408.19 83.50,408.25 84.00,408.30 84.50,408.35 85.00,408.40 85.50,408.45 86.00,408.50 86.50,408.56 87.00,408.61 87.50,408.66 88.00,408.71 88.50,408.77 89.00,408.82 89.50,408.87 90.00,408.92 90.50,408.98 91.00,409.03 91.50,409.08 92.00,409.14 92.50,409.19 93.00,409.25 93.50,409.30 94.00,409.35 94.50,409.41 95.00,409.46 95.50,409.51 96.00,409.57 96.50,409.62 97.00,409.68 97.50,409.73 98.00,409.78 98.50,409.84 99.00,409.89 99.50,409.95 100.00,410.00 100.50,410.06 101.00,410.12 101.50,410.18 102.00,410.25 102.50,410.31 103.00,410.38 103.50,410.46 104.00,410.53 104.50,410.60 105.00,410.67 105.50,410.74 106.00,410.81 106.50,410.88 107.00,410.94 107.50,411.00 108.00,411.06 108.50,411.11 109.00,411.16 109.50,411.20 110.00,411.23 110.50,411.26 111.00,411.28 111.50,411.30 112.00,411.30 112.50,411.30 113.00,411.30 113.50,411.30 114.00,411.30 114.50,411.30 115.00,411.30 115.50,411.30 116.00,411.30 118.00,411.30 120.00,411.30 122.00,411.30 124.00,411.30 126.00,411.30 128.00,411.30 130.00,411.30 132.00,411.30 134.00,411.30 136.00,411.30 138.00,411.30 140.00,411.30 142.00,411.30 144.00,411.30 146.00,411.30 148.00,411.30 150.00,411.30 152.00,411.30 154.00,411.30 156.00,411.30 158.00,411.30 160.00,411.30 162.00,411.30 164.00,411.30 166.00,411.30 168.00,411.30 170.00,411.30 172.00,411.30 174.00,411.30 176.00,411.30 178.00,411.30 180.00,411.30 182.00,411.30 184.00,411.30 186.00,411.30 188.00,411.30 190.00,411.30 192.00,411.30 194.00,411.30 196.00,411.30 198.00,411.30 201.10,411.30 203.10,411.30 205.10,411.30 207.10,411.30 209.10,411.30 211.10,411.30 213.10,411.30 215.10,411.30 217.10,411.30 219.10,411.30 221.10,411.30 223.10,411.30 225.10,411.30 227.10,411.30 229.10,411.30 231.10,411.30 233.10,411.30 235.10,411.30 237.10,411.30 239.10,411.30 241.10,411.30 243.10,411.30 245.10,411.30 247.10,411.30 249.10,411.30 251.10,411.30 253.10,411.30 255.10,411.30 257.10,411.30 259.10,411.30 261.10,411.30 263.10,411.30 265.10,411.30 267.10,411.30 269.10,411.30 271.10,411.30 273.10,411.30 275.10,411.30 277.10,411.30 279.10,411.30 281.10,411.30 282.70,411.30 283.20,411.28 283.70,411.26 284.20,411.23 284.70,411.21 285.20,411.19 285.70,411.16 286.20,411.14 286.70,411.11 287.20,411.09 287.70,411.06 288.20,411.04 288.70,411.01 289.20,410.98 289.70,410.95 290.20,410.93 290.70,410.90 291.20,410.87 291.70,410.84 292.20,410.81 292.70,410.78 293.20,410.75 293.70,410.72 294.20,410.69 294.70,410.65 295.20,410.62 295.70,410.59 296.20,410.56 296.70,410.52 297.20,410.49 297.70,410.46 298.20,410.42 298.70,410.39 299.20,410.36 299.70,410.32 300.20,410.29 300.70,410.25 301.20,410.21 301.70,410.18 302.20,410.14 302.70,410.10 303.20,410.06 303.70,410.02 304.20,409.98 304.70,409.94 305.20,409.90 305.70,409.86 306.20,409.82 306.70,409.77 307.20,409.73 307.70,409.69 308.20,409.64 308.70,409.60 309.20,409.55 309.70,409.51 310.20,409.46 310.70,409.41 311.20,409.37 311.70,409.32 312.20,409.27 312.70,409.22 313.20,409.18 313.70,409.13 314.20,409.08 314.70,409.03 315.20,408.98 315.70,408.93 316.20,408.88 316.70,408.83 317.20,408.78 317.70,408.72 318.20,408.67 318.70,408.61 319.20,408.56 319.70,408.50 320.20,408.45 320.70,408.39 321.20,408.33 321.70,408.27 322.20,408.22 322.70,408.16 323.20,408.10 323.70,408.04 324.20,407.98 324.70,407.92 325.20,407.86 325.70,407.80 326.20,407.74 326.70,407.68 327.20,407.62 327.70,407.56 328.20,407.50 328.70,407.44 329.20,407.38 329.70,407.32 330.20,407.26 330.70,407.21 331.20,407.15 331.70,407.09 331.90,407.07" fill="none" stroke="#000000" stroke-width="3.0" stroke-linejoin="round" clip-path="url(#cb)"/>
<polyline points="67.20,407.81 67.50,407.83 68.00,407.86 68.50,407.89 69.00,407.92 69.50,407.96 70.00,407.99 70.50,408.02 71.00,408.05 71.50,408.09 72.00,408.12 72.50,408.16 73.00,408.19 73.50,408.22 74.00,408.26 74.50,408.29 75.00,408.33 75.50,408.37 76.00,408.40 76.50,408.44 77.00,408.48 77.50,408.51 78.00,408.55 78.50,408.59 79.00,408.63 79.50,408.66 80.00,408.70 80.50,408.74 81.00,408.78 81.50,408.82 82.00,408.86 82.50,408.90 83.00,408.94 83.50,408.98 84.00,409.02 84.50,409.06 85.00,409.10 85.50,409.14 86.00,409.18 86.50,409.23 87.00,409.27 87.50,409.32 88.00,409.37 88.50,409.41 89.00,409.46 89.50,409.51 90.00,409.56 90.50,409.61 91.00,409.66 91.50,409.71 92.00,409.76 92.50,409.81 93.00,409.86 93.50,409.91 94.00,409.96 94.50,410.01 95.00,410.06 95.50,410.10 96.00,410.15 96.50,410.20 97.00,410.25 97.50,410.29 98.00,410.33 98.50,410.38 99.00,410.42 99.50,410.46 100.00,410.50 100.50,410.54 101.00,410.58 101.50,410.62 102.00,410.67 102.50,410.71 103.00,410.76 103.50,410.80 104.00,410.84 104.50,410.89 105.00,410.93 105.50,410.97 106.00,411.02 106.50,411.06 107.00,411.09 107.50,411.13 108.00,411.16 108.50,411.19 109.00,411.22 109.50,411.24 110.00,411.26 110.50,411.28 111.00,411.29 111.50,411.30 112.00,411.30 112.50,411.30 113.00,411.30 113.50,411.30 114.00,411.30 114.50,411.30 115.00,411.30 115.50,411.30 116.00,411.30 118.00,411.30 120.00,411.30 122.00,411.30 124.00,411.30 126.00,411.30 128.00,411.30 130.00,411.30 132.00,411.30 134.00,411.30 136.00,411.30 138.00,411.30 140.00,411.30 142.00,411.30 144.00,411.30 146.00,411.30 148.00,411.30 150.00,411.30 152.00,411.30 154.00,411.30 156.00,411.30 158.00,411.30 160.00,411.30 162.00,411.30 164.00,411.30 166.00,411.30 168.00,411.30 170.00,411.30 172.00,411.30 174.00,411.30 176.00,411.30 178.00,411.30 180.00,411.30 182.00,411.30 184.00,411.30 186.00,411.30 188.00,411.30 190.00,411.30 192.00,411.30 194.00,411.30 196.00,411.30 198.00,411.30 201.10,411.30 203.10,411.30 205.10,411.30 207.10,411.30 209.10,411.30 211.10,411.30 213.10,411.30 215.10,411.30 217.10,411.30 219.10,411.30 221.10,411.30 223.10,411.30 225.10,411.30 227.10,411.30 229.10,411.30 231.10,411.30 233.10,411.30 235.10,411.30 237.10,411.30 239.10,411.30 241.10,411.30 243.10,411.30 245.10,411.30 247.10,411.30 249.10,411.30 251.10,411.30 253.10,411.30 255.10,411.30 257.10,411.30 259.10,411.30 261.10,411.30 263.10,411.30 265.10,411.30 267.10,411.30 269.10,411.30 271.10,411.30 273.10,411.30 275.10,411.30 277.10,411.30 279.10,411.30 281.10,411.30 282.70,411.30 283.20,411.29 283.70,411.28 284.20,411.27 284.70,411.25 285.20,411.24 285.70,411.23 286.20,411.21 286.70,411.20 287.20,411.19 287.70,411.17 288.20,411.16 288.70,411.14 289.20,411.12 289.70,411.11 290.20,411.09 290.70,411.07 291.20,411.06 291.70,411.04 292.20,411.02 292.70,411.00 293.20,410.98 293.70,410.96 294.20,410.94 294.70,410.92 295.20,410.90 295.70,410.88 296.20,410.86 296.70,410.84 297.20,410.82 297.70,410.80 298.20,410.78 298.70,410.76 299.20,410.74 299.70,410.71 300.20,410.69 300.70,410.67 301.20,410.65 301.70,410.62 302.20,410.60 302.70,410.57 303.20,410.55 303.70,410.52 304.20,410.49 304.70,410.47 305.20,410.44 305.70,410.41 306.20,410.38 306.70,410.35 307.20,410.32 307.70,410.29 308.20,410.26 308.70,410.23 309.20,410.20 309.70,410.17 310.20,410.13 310.70,410.10 311.20,410.07 311.70,410.03 312.20,410.00 312.70,409.97 313.20,409.93 313.70,409.89 314.20,409.86 314.70,409.82 315.20,409.79 315.70,409.75 316.20,409.71 316.70,409.67 317.20,409.63 317.70,409.59 318.20,409.54 318.70,409.50 319.20,409.46 319.70,409.41 320.20,409.37 320.70,409.32 321.20,409.28 321.70,409.23 322.20,409.18 322.70,409.13 323.20,409.08 323.70,409.03 324.20,408.98 324.70,408.93 325.20,408.88 325.70,408.83 326.20,408.78 326.70,408.72 327.20,408.67 327.70,408.62 328.20,408.57 328.70,408.51 329.20,408.46 329.70,408.41 330.20,408.35 330.70,408.30 331.20,408.24 331.70,408.19 331.90,408.17" fill="none" stroke="#000000" stroke-width="3.0" stroke-linejoin="round" stroke-dasharray="5.7 2.7 1.6 2.7" clip-path="url(#cb)"/>
<line x1="95.50" y1="456.5" x2="95.50" y2="448.5" stroke="#000" stroke-width="2"/>
<line x1="95.50" y1="256.2" x2="95.50" y2="264.2" stroke="#000" stroke-width="2"/>
<line x1="147.53" y1="456.5" x2="147.53" y2="448.5" stroke="#000" stroke-width="2"/>
<line x1="147.53" y1="256.2" x2="147.53" y2="264.2" stroke="#000" stroke-width="2"/>
<line x1="199.55" y1="456.5" x2="199.55" y2="448.5" stroke="#000" stroke-width="2"/>
<line x1="199.55" y1="256.2" x2="199.55" y2="264.2" stroke="#000" stroke-width="2"/>
<line x1="251.58" y1="456.5" x2="251.58" y2="448.5" stroke="#000" stroke-width="2"/>
<line x1="251.58" y1="256.2" x2="251.58" y2="264.2" stroke="#000" stroke-width="2"/>
<line x1="303.60" y1="456.5" x2="303.60" y2="448.5" stroke="#000" stroke-width="2"/>
<line x1="303.60" y1="256.2" x2="303.60" y2="264.2" stroke="#000" stroke-width="2"/>
<line x1="64.4" y1="443.60" x2="72.4" y2="443.60" stroke="#000" stroke-width="2"/>
<line x1="334.9" y1="443.60" x2="326.9" y2="443.60" stroke="#000" stroke-width="2"/>
<line x1="64.4" y1="411.30" x2="72.4" y2="411.30" stroke="#000" stroke-width="2"/>
<line x1="334.9" y1="411.30" x2="326.9" y2="411.30" stroke="#000" stroke-width="2"/>
<line x1="64.4" y1="379.00" x2="72.4" y2="379.00" stroke="#000" stroke-width="2"/>
<line x1="334.9" y1="379.00" x2="326.9" y2="379.00" stroke="#000" stroke-width="2"/>
<line x1="64.4" y1="346.70" x2="72.4" y2="346.70" stroke="#000" stroke-width="2"/>
<line x1="334.9" y1="346.70" x2="326.9" y2="346.70" stroke="#000" stroke-width="2"/>
<line x1="64.4" y1="314.40" x2="72.4" y2="314.40" stroke="#000" stroke-width="2"/>
<line x1="334.9" y1="314.40" x2="326.9" y2="314.40" stroke="#000" stroke-width="2"/>
<line x1="64.4" y1="282.10" x2="72.4" y2="282.10" stroke="#000" stroke-width="2"/>
<line x1="334.9" y1="282.10" x2="326.9" y2="282.10" stroke="#000" stroke-width="2"/>
<rect x="64.4" y="256.2" width="270.50" height="200.30" fill="none" stroke="#000" stroke-width="2.2"/>
<text y="469.90" style="font-family:'Liberation Mono',monospace;font-size:11.3px"><tspan x="84.61">&#8722;</tspan><tspan x="91.97">1</tspan></text>
<text y="469.90" style="font-family:'Liberation Mono',monospace;font-size:11.3px"><tspan x="129.09">&#8722;</tspan><tspan x="136.97" style="font-family:'Liberation Sans',sans-serif;font-size:10.80px">0</tspan><tspan x="144.09">.</tspan><tspan x="151.59">5</tspan></text>
<text y="469.90" style="font-family:'Liberation Mono',monospace;font-size:11.3px"><tspan x="196.55" style="font-family:'Liberation Sans',sans-serif;font-size:10.80px">0</tspan></text>
<text y="469.90" style="font-family:'Liberation Mono',monospace;font-size:11.3px"><tspan x="241.02" style="font-family:'Liberation Sans',sans-serif;font-size:10.80px">0</tspan><tspan x="248.14">.</tspan><tspan x="255.64">5</tspan></text>
<text y="469.90" style="font-family:'Liberation Mono',monospace;font-size:11.3px"><tspan x="300.07">1</tspan></text>
<text y="447.80" style="font-family:'Liberation Mono',monospace;font-size:11.3px"><tspan x="47.43">&#8722;</tspan><tspan x="54.94">5</tspan></text>
<text y="415.50" style="font-family:'Liberation Mono',monospace;font-size:11.3px"><tspan x="55.41" style="font-family:'Liberation Sans',sans-serif;font-size:10.80px">0</tspan></text>
<text y="383.20" style="font-family:'Liberation Mono',monospace;font-size:11.3px"><tspan x="54.94">5</tspan></text>
<text y="350.90" style="font-family:'Liberation Mono',monospace;font-size:11.3px"><tspan x="47.39">1</tspan><tspan x="55.41" style="font-family:'Liberation Sans',sans-serif;font-size:10.80px">0</tspan></text>
<text y="318.60" style="font-family:'Liberation Mono',monospace;font-size:11.3px"><tspan x="47.30">1</tspan><tspan x="54.94">5</tspan></text>
<text y="286.30" style="font-family:'Liberation Mono',monospace;font-size:11.3px"><tspan x="47.53">2</tspan><tspan x="55.41" style="font-family:'Liberation Sans',sans-serif;font-size:10.80px">0</tspan></text>
<polyline points="66.00,684.50 66.60,681.50 67.20,678.50 67.85,676.15 68.50,673.80 69.00,672.97 69.50,672.13 70.00,671.30 70.50,670.93 71.00,670.57 71.50,670.20 72.17,670.30 72.83,670.40 73.50,670.50 74.07,669.83 74.63,669.17 75.20,668.50 75.70,654.25 76.20,640.00 76.70,626.00 77.20,612.00 77.70,631.00 78.20,650.00 78.80,628.00 79.40,606.00 80.00,630.50 80.60,655.00 81.20,629.50 81.80,604.00 82.40,628.00 83.00,652.00 83.47,638.00 83.93,624.00 84.40,610.00 85.00,628.00 85.60,646.00 86.10,622.50 86.60,599.00 87.20,617.50 87.80,636.00 88.30,638.00 88.80,640.00 89.30,644.00 89.80,648.00 90.20,642.00 90.60,636.06 91.10,632.23 91.60,628.02 92.07,627.34 92.53,625.72 93.00,625.86 93.67,627.58 94.33,625.14 95.00,625.74 95.62,628.50 96.25,629.34 96.88,629.51 97.50,628.17 98.12,629.53 98.75,630.40 99.38,626.66 100.00,627.90 100.62,625.80 101.25,627.42 101.88,627.07 102.50,630.17 103.12,628.90 103.75,631.83 104.38,632.27 105.00,632.72 105.62,629.98 106.25,633.78 106.88,634.88 107.50,635.13 108.12,632.21 108.75,633.87 109.38,633.86 110.00,634.91 110.62,636.93 111.25,636.81 111.88,637.66 112.50,638.19 113.12,638.30 113.75,638.93 114.38,639.61 115.00,640.19 115.62,639.21 116.25,640.78 116.88,642.37 117.50,639.26 118.12,642.05 118.75,641.33 119.38,640.55 120.00,643.57 120.67,642.06 121.33,639.77 122.00,641.09 122.67,641.59 123.33,640.61 124.00,641.41 124.67,640.38 125.33,641.02 126.00,641.67 126.67,639.14 127.33,639.94 128.00,639.14 128.67,639.68 129.33,638.11 130.00,638.61 130.67,638.89 131.33,639.97 132.00,640.21 132.67,637.57 133.33,638.40 134.00,640.43 134.67,637.95 135.33,640.08 136.00,640.86 136.67,642.56 137.33,642.08 138.00,640.96 138.67,640.93 139.33,640.97 140.00,643.04 140.67,641.06 141.33,641.32 142.00,642.17 142.67,641.52 143.33,641.21 144.00,639.91 144.67,640.80 145.33,639.96 146.00,641.56 146.67,641.07 147.33,640.55 148.00,641.79 148.67,641.04 149.33,643.12 150.00,642.31 150.67,643.14 151.33,641.22 152.00,643.08 152.67,640.63 153.33,640.08 154.00,641.98 154.67,641.32 155.33,642.59 156.00,645.21 156.67,642.15 157.33,642.85 158.00,644.05 158.67,644.53 159.33,643.67 160.00,643.42 160.67,643.96 161.33,643.45 162.00,641.43 162.67,642.23 163.33,642.32 164.00,641.19 164.67,642.57 165.33,641.49 166.00,643.64 166.67,643.01 167.33,643.25 168.00,642.96 168.67,643.89 169.33,642.19 170.00,643.30 170.67,644.99 171.33,642.05 172.00,645.09 172.67,641.97 173.33,644.59 174.00,642.68 174.67,644.48 175.33,643.90 176.00,642.27 176.67,645.61 177.33,646.12 178.00,644.72 178.67,644.72 179.33,644.99 180.00,644.13 180.67,646.36 181.33,644.51 182.00,644.96 182.67,644.00 183.33,644.06 184.00,643.19 184.67,645.94 185.33,644.28 186.00,645.52 186.67,644.63 187.33,644.23 188.00,645.04 188.67,645.19 189.33,646.09 190.00,645.80 190.67,645.76 191.33,644.25 192.00,644.48 192.67,646.69 193.33,643.71 194.00,643.01 194.67,644.32 195.33,645.35 196.00,642.22 196.67,643.82 197.33,643.49 198.00,642.54 198.67,645.60 199.33,645.34 200.00,646.00 200.67,645.39 201.33,647.02 202.00,646.09 202.67,646.66 203.33,645.66 204.00,645.43 204.67,647.94 205.33,645.66 206.00,646.28 206.67,645.54 207.33,644.90 208.00,644.48 208.67,645.52 209.33,644.38 210.00,644.45 210.67,644.52 211.33,645.63 212.00,644.78 212.67,644.15 213.33,642.72 214.00,641.46 214.67,643.68 215.33,643.42 216.00,642.10 216.67,642.82 217.33,643.21 218.00,643.25 218.67,643.34 219.33,641.82 220.00,643.91 220.67,640.74 221.33,642.97 222.00,642.47 222.67,642.77 223.33,643.89 224.00,643.47 224.67,640.51 225.33,639.92 226.00,642.66 226.67,640.78 227.33,642.05 228.00,643.15 228.67,640.79 229.33,640.69 230.00,643.46 230.67,643.34 231.33,643.03 232.00,643.21 232.67,641.96 233.33,640.93 234.00,642.07 234.67,640.93 235.33,640.03 236.00,642.52 236.67,642.11 237.33,642.78 238.00,641.54 238.67,642.22 239.33,641.97 240.00,641.98 240.67,642.94 241.33,641.50 242.00,642.31 242.67,641.90 243.33,643.22 244.00,639.21 244.67,641.50 245.33,640.34 246.00,640.46 246.67,638.85 247.33,640.02 248.00,641.55 248.67,640.75 249.33,641.03 250.00,640.72 250.67,642.42 251.33,641.17 252.00,638.90 252.67,640.54 253.33,638.97 254.00,637.31 254.67,639.92 255.33,641.59 256.00,639.77 256.67,638.09 257.33,638.24 258.00,640.48 258.67,639.47 259.33,639.37 260.00,639.33 260.62,639.40 261.25,640.04 261.88,639.57 262.50,639.03 263.12,637.57 263.75,639.13 264.38,637.64 265.00,639.45 265.62,636.85 266.25,638.03 266.88,638.12 267.50,636.50 268.12,639.64 268.75,639.23 269.38,637.17 270.00,638.68 270.62,638.47 271.25,635.50 271.88,639.17 272.50,639.28 273.12,639.80 273.75,638.96 274.38,640.06 275.00,640.33 275.62,641.34 276.25,640.01 276.88,639.15 277.50,640.44 278.12,637.90 278.75,637.94 279.38,636.13 280.00,639.54 280.62,638.24 281.25,637.43 281.88,636.15 282.50,634.55 283.12,633.71 283.75,632.51 284.38,632.07 285.00,632.23 285.67,633.86 286.33,632.84 287.00,632.24 287.67,631.57 288.33,631.29 289.00,633.40 289.60,631.82 290.20,631.14 290.80,630.42 291.40,629.39 292.00,630.48 292.60,631.28 293.20,629.64 293.80,629.54 294.40,628.99 295.00,628.52 295.67,626.27 296.33,625.98 297.00,624.82 297.60,624.65 298.20,624.12 298.80,623.68 299.40,623.24 300.00,622.80 300.57,624.60 301.15,626.40 301.73,628.20 302.30,630.00 302.93,635.83 303.57,641.67 304.20,647.50 304.80,645.00 305.40,642.50 306.00,640.00 306.60,634.67 307.20,629.33 307.80,624.00 308.37,619.33 308.93,614.67 309.50,610.00 310.07,606.50 310.63,603.00 311.20,599.50 311.70,612.25 312.20,625.00 312.70,643.00 313.20,661.00 313.85,664.50 314.50,668.00 315.17,668.67 315.83,669.33 316.50,670.00 317.20,670.04 317.90,670.08 318.60,670.12 319.30,670.16 320.00,670.20 320.66,670.31 321.31,670.43 321.97,670.54 322.63,670.66 323.29,670.77 323.94,670.89 324.60,671.00 325.28,672.00 325.96,673.00 326.64,674.00 327.32,675.00 328.00,676.00 328.62,677.52 329.24,679.04 329.86,680.56 330.48,682.08 331.10,683.60 331.80,684.80 332.20,685.49" fill="none" stroke="#00ff00" stroke-width="3.0" stroke-linejoin="round" clip-path="url(#cc)"/>
<polyline points="77.07,500.00 76.73,540.00 75.90,557.50 74.40,575.00 74.24,590.00 74.40,605.00 74.31,611.25 73.48,617.50 74.11,623.75 72.63,630.00 72.22,640.00 73.00,650.00 71.51,657.50 71.73,665.00 71.31,672.50 70.08,680.00 69.84,684.25 70.89,688.50 69.43,692.75 68.73,697.00 68.90,705.50 69.07,714.00" fill="none" stroke="#00ff00" stroke-width="3.5" stroke-linejoin="round" clip-path="url(#cc)" stroke-dasharray="9.8 3.6" stroke-dashoffset="-1.5"/>
<polyline points="80.49,662.00 80.93,640.00 80.76,627.50 80.90,615.00 81.82,585.00 82.87,560.00 83.24,545.00 83.46,565.00 83.75,582.50 85.08,600.00 84.80,615.00 86.00,630.00 86.80,636.00 87.60,642.00 88.23,640.00 88.87,638.00 89.50,636.00 90.17,631.33 90.83,626.67 91.50,622.00 92.20,619.50 92.90,617.00 93.60,614.50 94.32,617.62 95.05,620.75 95.78,623.88 96.50,627.00 97.16,629.80 97.82,632.60 98.48,635.40 99.14,638.20 99.80,641.00 100.47,642.40 101.15,643.80 101.83,645.20 102.50,646.60 103.20,647.32 103.90,648.04 104.60,648.76 105.30,649.48 106.00,650.20 106.72,650.56 107.44,650.92 108.16,651.28 108.88,651.64 109.60,652.00 110.20,651.62 110.80,651.25 111.40,650.88 112.00,650.50 112.75,649.75 113.50,649.00 114.25,648.25 115.00,647.50 115.80,647.00 116.60,646.50 117.40,646.00 118.20,645.50 119.00,645.00 119.71,644.79 120.43,644.57 121.14,644.36 121.86,644.14 122.57,643.93 123.29,643.71 124.00,643.50 124.71,643.71 125.43,643.93 126.14,644.14 126.86,644.36 127.57,644.57 128.29,644.79 129.00,645.00 129.80,645.23 130.60,645.46 131.40,645.69 132.20,645.91 133.00,646.14 133.80,646.37 134.60,646.60 135.34,646.82 136.07,647.04 136.81,647.25 137.55,647.47 138.28,647.69 139.02,647.91 139.75,648.13 140.49,648.35 141.23,648.56 141.96,648.78 142.70,649.00 143.47,648.92 144.25,648.85 145.03,648.77 145.80,648.70 146.57,648.62 147.35,648.55 148.12,648.48 148.90,648.40 149.69,648.19 150.49,647.78 151.28,647.60 152.07,646.79 152.86,647.63 153.66,647.94 154.45,646.69 155.24,646.80 156.04,646.13 156.83,645.11 157.62,644.23 158.41,642.98 159.21,645.01 160.00,643.80 160.80,645.72 161.60,644.76 162.40,644.63 163.20,644.22 164.00,645.93 164.80,644.83 165.60,646.49 166.40,645.22 167.20,645.69 168.00,644.54 168.80,647.22 169.60,645.52 170.40,645.23 171.20,645.99 172.00,644.78 172.80,646.02 173.60,644.71 174.40,646.06 175.20,645.03 176.00,644.65 176.80,645.65 177.60,645.15 178.40,646.58 179.20,646.19 180.00,646.51 180.80,646.17 181.60,645.88 182.40,646.08 183.20,646.78 184.00,646.03 184.80,645.71 185.60,645.71 186.40,646.39 187.20,646.27 188.00,648.33 188.80,646.35 189.60,646.57 190.40,647.23 191.20,648.05 192.00,647.56 192.80,647.32 193.60,647.59 194.40,648.10 195.20,649.17 196.00,647.94 196.80,648.43 197.60,647.87 198.40,648.27 199.20,648.09 200.00,646.64 200.80,649.10 201.60,647.48 202.40,646.84 203.20,646.43 204.00,646.68 204.80,646.67 205.60,646.88 206.40,646.27 207.20,646.53 208.00,645.00 208.80,645.63 209.60,645.43 210.40,646.09 211.20,646.16 212.00,644.62 212.80,645.40 213.60,645.96 214.40,646.15 215.20,644.79 216.00,646.06 216.80,646.00 217.60,645.50 218.40,647.23 219.20,644.97 220.00,645.54 220.80,645.94 221.60,645.77 222.40,645.37 223.20,646.43 224.00,646.36 224.80,645.82 225.60,645.79 226.40,644.94 227.20,644.03 228.00,646.31 228.80,643.99 229.60,646.25 230.40,644.65 231.20,645.08 232.00,644.94 232.80,645.98 233.60,645.15 234.40,646.99 235.20,646.14 236.00,645.87 236.80,645.23 237.60,645.61 238.40,645.02 239.20,645.97 240.00,644.89 240.80,642.75 241.60,644.64 242.40,641.80 243.20,644.48 244.00,642.17 244.80,643.55 245.60,644.23 246.40,643.70 247.20,642.85 248.00,644.35 248.80,642.10 249.60,642.19 250.40,644.16 251.20,642.56 252.00,643.32 252.80,643.61 253.60,642.97 254.40,643.08 255.20,642.99 256.00,643.00 256.80,643.59 257.60,643.42 258.40,643.08 259.20,643.55 260.00,642.51 260.77,642.34 261.54,642.19 262.31,643.42 263.08,644.06 263.85,642.97 264.62,641.59 265.38,642.56 266.15,643.18 266.92,643.10 267.69,642.95 268.46,643.55 269.23,643.57 270.00,642.09 270.80,643.64 271.60,643.12 272.40,644.07 273.20,644.93 274.00,645.55 274.80,644.85 275.60,644.14 276.40,644.47 277.12,645.08 277.84,644.53 278.56,644.94 279.28,645.07 280.00,645.00 280.72,645.10 281.44,645.20 282.16,645.30 282.88,645.40 283.60,645.50 284.34,645.76 285.08,646.02 285.81,646.29 286.55,646.55 287.29,646.81 288.02,647.08 288.76,647.34 289.50,647.60 290.19,648.11 290.87,648.63 291.56,649.14 292.24,649.66 292.93,650.17 293.61,650.69 294.30,651.20 295.02,652.36 295.74,653.52 296.46,654.68 297.18,655.84 297.90,657.00 298.60,658.67 299.30,660.33 300.00,662.00 300.75,662.62 301.50,663.25 302.25,663.88 303.00,664.50 303.75,663.62 304.50,662.75 305.25,661.88 306.00,661.00 306.75,661.75 307.50,662.50 308.25,663.25 309.00,664.00" fill="none" stroke="#00ff00" stroke-width="3.0" stroke-linejoin="round" stroke-dasharray="5.7 2.7 1.6 2.7" clip-path="url(#cc)"/>
<polyline points="66.20,566.00 68.60,582.40 72.00,603.00 76.00,626.00 80.00,648.00 82.20,660.50 84.00,665.00 86.00,666.60 90.00,667.10 309.00,667.10 312.00,666.50 314.20,663.50 318.00,640.00 322.00,615.00 326.00,594.00 331.10,568.40 332.20,563.15" fill="none" stroke="#ff0000" stroke-width="3.0" stroke-linejoin="round" clip-path="url(#cc)"/>
<polyline points="66.60,543.50 66.90,556.00 67.20,570.00 67.50,585.00 67.80,600.00 68.10,617.00 68.40,633.00 68.90,645.00 69.60,653.00 71.00,659.50 73.00,663.80 76.00,666.20 79.00,667.10 300.00,667.10 303.00,665.50 307.90,658.50 312.00,653.00 318.00,648.00 324.00,643.00 331.10,635.30 332.20,634.33" fill="none" stroke="#ff0000" stroke-width="3.0" stroke-linejoin="round" clip-path="url(#cc)" stroke-dasharray="5.7 2.7 1.6 2.7" stroke-dashoffset="8.4"/>
<polyline points="66.30,659.60 66.80,659.92 67.30,660.25 67.80,660.57 68.30,660.90 68.80,661.22 69.30,661.55 69.80,661.87 70.30,662.20 70.80,662.54 71.30,662.89 71.80,663.24 72.30,663.58 72.80,663.91 73.30,664.22 73.80,664.50 74.30,664.75 74.80,664.99 75.30,665.23 75.80,665.47 76.30,665.69 76.80,665.89 77.30,666.09 77.80,666.26 78.30,666.42 78.80,666.55 79.30,666.67 79.80,666.77 80.30,666.87 80.80,666.96 81.30,667.03 81.80,667.08 82.00,667.10 84.00,667.10 88.00,667.10 92.00,667.10 96.00,667.10 100.00,667.10 104.00,667.10 108.00,667.10 112.00,667.10 116.00,667.10 120.00,667.10 124.00,667.10 128.00,667.10 132.00,667.10 136.00,667.10 140.00,667.10 144.00,667.10 148.00,667.10 152.00,667.10 156.00,667.10 160.00,667.10 164.00,667.10 168.00,667.10 172.00,667.10 176.00,667.10 180.00,667.10 184.00,667.10 188.00,667.10 192.00,667.10 196.00,667.10 200.00,667.10 204.00,667.10 208.00,667.10 212.00,667.10 216.00,667.10 220.00,667.10 224.00,667.10 228.00,667.10 232.00,667.10 236.00,667.10 240.00,667.10 244.00,667.10 248.00,667.10 252.00,667.10 256.00,667.10 260.00,667.10 264.00,667.10 268.00,667.10 272.00,667.10 276.00,667.10 280.00,667.10 284.00,667.10 288.00,667.10 292.00,667.10 296.00,667.10 300.00,667.10 304.00,667.10 308.00,667.10 311.00,667.10 311.50,667.08 312.00,667.05 312.50,667.02 313.00,666.97 313.50,666.92 314.00,666.86 314.50,666.80 315.00,666.74 315.50,666.67 316.00,666.59 316.50,666.50 317.00,666.39 317.50,666.28 318.00,666.15 318.50,666.02 319.00,665.88 319.50,665.74 320.00,665.60 320.50,665.45 321.00,665.30 321.50,665.14 322.00,664.98 322.50,664.80 323.00,664.62 323.50,664.43 324.00,664.23 324.50,664.02 325.00,663.80 325.50,663.57 326.00,663.33 326.50,663.07 327.00,662.80 327.50,662.52 328.00,662.23 328.50,661.92 329.00,661.61 329.50,661.29 330.00,660.96 330.50,660.62 331.00,660.27 331.50,659.91 332.00,659.54 332.20,659.38" fill="none" stroke="#000000" stroke-width="3.0" stroke-linejoin="round" clip-path="url(#cc)"/>
<polyline points="66.30,661.50 66.80,661.78 67.30,662.06 67.80,662.34 68.30,662.61 68.80,662.88 69.30,663.14 69.80,663.40 70.30,663.65 70.80,663.91 71.30,664.17 71.80,664.43 72.30,664.67 72.80,664.91 73.30,665.13 73.80,665.33 74.30,665.51 74.80,665.68 75.30,665.85 75.80,666.02 76.30,666.17 76.80,666.32 77.30,666.46 77.80,666.58 78.30,666.68 78.80,666.77 79.30,666.84 79.80,666.91 80.30,666.97 80.80,667.02 81.30,667.06 81.80,667.09 82.00,667.10 84.00,667.10 88.00,667.10 92.00,667.10 96.00,667.10 100.00,667.10 104.00,667.10 108.00,667.10 112.00,667.10 116.00,667.10 120.00,667.10 124.00,667.10 128.00,667.10 132.00,667.10 136.00,667.10 140.00,667.10 144.00,667.10 148.00,667.10 152.00,667.10 156.00,667.10 160.00,667.10 164.00,667.10 168.00,667.10 172.00,667.10 176.00,667.10 180.00,667.10 184.00,667.10 188.00,667.10 192.00,667.10 196.00,667.10 200.00,667.10 204.00,667.10 208.00,667.10 212.00,667.10 216.00,667.10 220.00,667.10 224.00,667.10 228.00,667.10 232.00,667.10 236.00,667.10 240.00,667.10 244.00,667.10 248.00,667.10 252.00,667.10 256.00,667.10 260.00,667.10 264.00,667.10 268.00,667.10 272.00,667.10 276.00,667.10 280.00,667.10 284.00,667.10 288.00,667.10 292.00,667.10 296.00,667.10 300.00,667.10 304.00,667.10 308.00,667.10 311.00,667.10 311.50,667.10 312.00,667.09 312.50,667.07 313.00,667.05 313.50,667.02 314.00,666.99 314.50,666.96 315.00,666.92 315.50,666.88 316.00,666.84 316.50,666.78 317.00,666.72 317.50,666.64 318.00,666.56 318.50,666.48 319.00,666.39 319.50,666.29 320.00,666.20 320.50,666.10 321.00,665.99 321.50,665.88 322.00,665.75 322.50,665.62 323.00,665.49 323.50,665.35 324.00,665.20 324.50,665.05 325.00,664.90 325.50,664.75 326.00,664.59 326.50,664.43 327.00,664.27 327.50,664.10 328.00,663.92 328.50,663.73 329.00,663.54 329.50,663.34 330.00,663.12 330.50,662.89 331.00,662.65 331.50,662.39 332.00,662.10 332.20,661.97" fill="none" stroke="#000000" stroke-width="3.0" stroke-linejoin="round" stroke-dasharray="5.7 2.7 1.6 2.7" clip-path="url(#cc)"/>
<line x1="95.00" y1="712.1" x2="95.00" y2="704.1" stroke="#000" stroke-width="2"/>
<line x1="95.00" y1="511.0" x2="95.00" y2="519.0" stroke="#000" stroke-width="2"/>
<line x1="147.10" y1="712.1" x2="147.10" y2="704.1" stroke="#000" stroke-width="2"/>
<line x1="147.10" y1="511.0" x2="147.10" y2="519.0" stroke="#000" stroke-width="2"/>
<line x1="199.20" y1="712.1" x2="199.20" y2="704.1" stroke="#000" stroke-width="2"/>
<line x1="199.20" y1="511.0" x2="199.20" y2="519.0" stroke="#000" stroke-width="2"/>
<line x1="251.30" y1="712.1" x2="251.30" y2="704.1" stroke="#000" stroke-width="2"/>
<line x1="251.30" y1="511.0" x2="251.30" y2="519.0" stroke="#000" stroke-width="2"/>
<line x1="303.40" y1="712.1" x2="303.40" y2="704.1" stroke="#000" stroke-width="2"/>
<line x1="303.40" y1="511.0" x2="303.40" y2="519.0" stroke="#000" stroke-width="2"/>
<line x1="63.4" y1="697.10" x2="71.4" y2="697.10" stroke="#000" stroke-width="2"/>
<line x1="334.5" y1="697.10" x2="326.5" y2="697.10" stroke="#000" stroke-width="2"/>
<line x1="63.4" y1="667.10" x2="71.4" y2="667.10" stroke="#000" stroke-width="2"/>
<line x1="334.5" y1="667.10" x2="326.5" y2="667.10" stroke="#000" stroke-width="2"/>
<line x1="63.4" y1="637.10" x2="71.4" y2="637.10" stroke="#000" stroke-width="2"/>
<line x1="334.5" y1="637.10" x2="326.5" y2="637.10" stroke="#000" stroke-width="2"/>
<line x1="63.4" y1="607.10" x2="71.4" y2="607.10" stroke="#000" stroke-width="2"/>
<line x1="334.5" y1="607.10" x2="326.5" y2="607.10" stroke="#000" stroke-width="2"/>
<line x1="63.4" y1="577.10" x2="71.4" y2="577.10" stroke="#000" stroke-width="2"/>
<line x1="334.5" y1="577.10" x2="326.5" y2="577.10" stroke="#000" stroke-width="2"/>
<line x1="63.4" y1="547.10" x2="71.4" y2="547.10" stroke="#000" stroke-width="2"/>
<line x1="334.5" y1="547.10" x2="326.5" y2="547.10" stroke="#000" stroke-width="2"/>
<line x1="63.4" y1="517.10" x2="71.4" y2="517.10" stroke="#000" stroke-width="2"/>
<line x1="334.5" y1="517.10" x2="326.5" y2="517.10" stroke="#000" stroke-width="2"/>
<rect x="63.4" y="511.0" width="271.10" height="201.10" fill="none" stroke="#000" stroke-width="2.2"/>
<text y="726.50" style="font-family:'Liberation Mono',monospace;font-size:11.8px"><tspan x="83.46">&#8722;</tspan><tspan x="91.32">1</tspan></text>
<text y="726.50" style="font-family:'Liberation Mono',monospace;font-size:11.8px"><tspan x="127.51">&#8722;</tspan><tspan x="135.91" style="font-family:'Liberation Sans',sans-serif;font-size:11.28px">0</tspan><tspan x="143.51">.</tspan><tspan x="151.51">5</tspan></text>
<text y="726.50" style="font-family:'Liberation Mono',monospace;font-size:11.8px"><tspan x="196.06" style="font-family:'Liberation Sans',sans-serif;font-size:11.28px">0</tspan></text>
<text y="726.50" style="font-family:'Liberation Mono',monospace;font-size:11.8px"><tspan x="240.11" style="font-family:'Liberation Sans',sans-serif;font-size:11.28px">0</tspan><tspan x="247.71">.</tspan><tspan x="255.71">5</tspan></text>
<text y="726.50" style="font-family:'Liberation Mono',monospace;font-size:11.8px"><tspan x="299.72">1</tspan></text>
<text y="701.50" style="font-family:'Liberation Mono',monospace;font-size:11.8px"><tspan x="29.26">&#8722;</tspan><tspan x="37.12">1</tspan><tspan x="45.67" style="font-family:'Liberation Sans',sans-serif;font-size:11.28px">0</tspan><tspan x="53.67" style="font-family:'Liberation Sans',sans-serif;font-size:11.28px">0</tspan></text>
<text y="671.50" style="font-family:'Liberation Mono',monospace;font-size:11.8px"><tspan x="53.67" style="font-family:'Liberation Sans',sans-serif;font-size:11.28px">0</tspan></text>
<text y="641.50" style="font-family:'Liberation Mono',monospace;font-size:11.8px"><tspan x="37.12">1</tspan><tspan x="45.67" style="font-family:'Liberation Sans',sans-serif;font-size:11.28px">0</tspan><tspan x="53.67" style="font-family:'Liberation Sans',sans-serif;font-size:11.28px">0</tspan></text>
<text y="611.50" style="font-family:'Liberation Mono',monospace;font-size:11.8px"><tspan x="37.27">2</tspan><tspan x="45.67" style="font-family:'Liberation Sans',sans-serif;font-size:11.28px">0</tspan><tspan x="53.67" style="font-family:'Liberation Sans',sans-serif;font-size:11.28px">0</tspan></text>
<text y="581.50" style="font-family:'Liberation Mono',monospace;font-size:11.8px"><tspan x="37.27">3</tspan><tspan x="45.67" style="font-family:'Liberation Sans',sans-serif;font-size:11.28px">0</tspan><tspan x="53.67" style="font-family:'Liberation Sans',sans-serif;font-size:11.28px">0</tspan></text>
<text y="551.50" style="font-family:'Liberation Mono',monospace;font-size:11.8px"><tspan x="37.27">4</tspan><tspan x="45.67" style="font-family:'Liberation Sans',sans-serif;font-size:11.28px">0</tspan><tspan x="53.67" style="font-family:'Liberation Sans',sans-serif;font-size:11.28px">0</tspan></text>
<text y="521.50" style="font-family:'Liberation Mono',monospace;font-size:11.8px"><tspan x="37.27">5</tspan><tspan x="45.67" style="font-family:'Liberation Sans',sans-serif;font-size:11.28px">0</tspan><tspan x="53.67" style="font-family:'Liberation Sans',sans-serif;font-size:11.28px">0</tspan></text>
<text transform="translate(94.89,27.20) scale(1.050,1)" style="font-family:'Liberation Sans',sans-serif;font-size:17px;font-weight:normal;font-style:normal">(a)</text>
<text transform="translate(94.92,282.40) scale(1.028,1)" style="font-family:'Liberation Sans',sans-serif;font-size:17px;font-weight:normal;font-style:normal">(b)</text>
<text transform="translate(94.59,553.60) scale(1.056,1)" style="font-family:'Liberation Sans',sans-serif;font-size:17px;font-weight:normal;font-style:normal">(c)</text>
<line x1="150.70" y1="12.00" x2="176.80" y2="12.00" stroke="#00ff00" stroke-width="3.0"/>
<line x1="150.90" y1="22.30" x2="173.50" y2="22.30" stroke="#00ff00" stroke-width="3.0" stroke-dasharray="1.0 3.3 5.4 3.2"/>
<line x1="150.70" y1="33.90" x2="176.80" y2="33.90" stroke="#ff0000" stroke-width="3.0"/>
<line x1="150.90" y1="48.00" x2="173.50" y2="48.00" stroke="#ff0000" stroke-width="3.0" stroke-dasharray="1.0 3.3 5.4 3.2"/>
<line x1="150.70" y1="60.00" x2="176.80" y2="60.00" stroke="#000000" stroke-width="3.0"/>
<line x1="150.90" y1="70.60" x2="173.50" y2="70.60" stroke="#000000" stroke-width="3.0" stroke-dasharray="1.0 3.3 5.4 3.2"/>
<text transform="translate(179.00,16.70) scale(1.110,1)" style="font-family:'Liberation Serif',serif;font-size:11.5px;font-weight:normal;font-style:normal">electrons SF</text>
<text transform="translate(179.00,26.90) scale(1.116,1)" style="font-family:'Liberation Serif',serif;font-size:11.5px;font-weight:normal;font-style:normal">electrons DF</text>
<text transform="translate(179.18,37.80) scale(1.092,1)" style="font-family:'Liberation Serif',serif;font-size:11.5px;font-weight:normal;font-style:normal">Cl</text>
<text transform="translate(191.28,41.40) scale(1.247,1)" style="font-family:'Liberation Serif',serif;font-size:7.6px;font-weight:normal;font-style:normal">2</text>
<text transform="translate(191.62,33.20) scale(1.451,1)" style="font-family:'Liberation Serif',serif;font-size:8.0px;font-weight:normal;font-style:normal">+</text>
<text transform="translate(202.73,37.80) scale(1.102,1)" style="font-family:'Liberation Serif',serif;font-size:11.5px;font-weight:normal;font-style:normal">ions</text>
<text transform="translate(226.87,37.80) scale(1.206,1)" style="font-family:'Liberation Serif',serif;font-size:11.5px;font-weight:normal;font-style:normal">SF</text>
<text transform="translate(179.18,52.80) scale(1.092,1)" style="font-family:'Liberation Serif',serif;font-size:11.5px;font-weight:normal;font-style:normal">Cl</text>
<text transform="translate(191.28,56.40) scale(1.247,1)" style="font-family:'Liberation Serif',serif;font-size:7.6px;font-weight:normal;font-style:normal">2</text>
<text transform="translate(191.62,48.00) scale(1.451,1)" style="font-family:'Liberation Serif',serif;font-size:8.0px;font-weight:normal;font-style:normal">+</text>
<text transform="translate(202.73,52.80) scale(1.102,1)" style="font-family:'Liberation Serif',serif;font-size:11.5px;font-weight:normal;font-style:normal">ions</text>
<text transform="translate(227.41,52.80) scale(1.182,1)" style="font-family:'Liberation Serif',serif;font-size:11.5px;font-weight:normal;font-style:normal">DF</text>
<text transform="translate(179.18,64.50) scale(1.092,1)" style="font-family:'Liberation Serif',serif;font-size:11.5px;font-weight:normal;font-style:normal">Cl</text>
<text transform="translate(191.62,61.20) scale(1.451,1)" style="font-family:'Liberation Serif',serif;font-size:8.0px;font-weight:normal;font-style:normal">+</text>
<text transform="translate(202.73,64.50) scale(1.102,1)" style="font-family:'Liberation Serif',serif;font-size:11.5px;font-weight:normal;font-style:normal">ions</text>
<text transform="translate(226.87,64.50) scale(1.206,1)" style="font-family:'Liberation Serif',serif;font-size:11.5px;font-weight:normal;font-style:normal">SF</text>
<text transform="translate(179.18,75.30) scale(1.092,1)" style="font-family:'Liberation Serif',serif;font-size:11.5px;font-weight:normal;font-style:normal">Cl</text>
<text transform="translate(191.62,71.60) scale(1.451,1)" style="font-family:'Liberation Serif',serif;font-size:8.0px;font-weight:normal;font-style:normal">+</text>
<text transform="translate(202.73,75.30) scale(1.102,1)" style="font-family:'Liberation Serif',serif;font-size:11.5px;font-weight:normal;font-style:normal">ions</text>
<text transform="translate(227.41,75.30) scale(1.182,1)" style="font-family:'Liberation Serif',serif;font-size:11.5px;font-weight:normal;font-style:normal">DF</text>
<line x1="150.70" y1="267.60" x2="176.80" y2="267.60" stroke="#00ff00" stroke-width="3.0"/>
<line x1="150.90" y1="277.90" x2="173.50" y2="277.90" stroke="#00ff00" stroke-width="3.0" stroke-dasharray="1.0 3.3 5.4 3.2"/>
<line x1="150.70" y1="289.50" x2="176.80" y2="289.50" stroke="#ff0000" stroke-width="3.0"/>
<line x1="150.90" y1="303.60" x2="173.50" y2="303.60" stroke="#ff0000" stroke-width="3.0" stroke-dasharray="1.0 3.3 5.4 3.2"/>
<line x1="150.70" y1="315.60" x2="176.80" y2="315.60" stroke="#000000" stroke-width="3.0"/>
<line x1="150.90" y1="326.20" x2="173.50" y2="326.20" stroke="#000000" stroke-width="3.0" stroke-dasharray="1.0 3.3 5.4 3.2"/>
<text transform="translate(179.00,272.30) scale(1.110,1)" style="font-family:'Liberation Serif',serif;font-size:11.5px;font-weight:normal;font-style:normal">electrons SF</text>
<text transform="translate(179.00,282.50) scale(1.116,1)" style="font-family:'Liberation Serif',serif;font-size:11.5px;font-weight:normal;font-style:normal">electrons DF</text>
<text transform="translate(179.18,293.40) scale(1.092,1)" style="font-family:'Liberation Serif',serif;font-size:11.5px;font-weight:normal;font-style:normal">Cl</text>
<text transform="translate(191.28,297.00) scale(1.247,1)" style="font-family:'Liberation Serif',serif;font-size:7.6px;font-weight:normal;font-style:normal">2</text>
<text transform="translate(191.62,288.80) scale(1.451,1)" style="font-family:'Liberation Serif',serif;font-size:8.0px;font-weight:normal;font-style:normal">+</text>
<text transform="translate(202.73,293.40) scale(1.102,1)" style="font-family:'Liberation Serif',serif;font-size:11.5px;font-weight:normal;font-style:normal">ions</text>
<text transform="translate(226.87,293.40) scale(1.206,1)" style="font-family:'Liberation Serif',serif;font-size:11.5px;font-weight:normal;font-style:normal">SF</text>
<text transform="translate(179.18,308.40) scale(1.092,1)" style="font-family:'Liberation Serif',serif;font-size:11.5px;font-weight:normal;font-style:normal">Cl</text>
<text transform="translate(191.28,312.00) scale(1.247,1)" style="font-family:'Liberation Serif',serif;font-size:7.6px;font-weight:normal;font-style:normal">2</text>
<text transform="translate(191.62,303.60) scale(1.451,1)" style="font-family:'Liberation Serif',serif;font-size:8.0px;font-weight:normal;font-style:normal">+</text>
<text transform="translate(202.73,308.40) scale(1.102,1)" style="font-family:'Liberation Serif',serif;font-size:11.5px;font-weight:normal;font-style:normal">ions</text>
<text transform="translate(227.41,308.40) scale(1.182,1)" style="font-family:'Liberation Serif',serif;font-size:11.5px;font-weight:normal;font-style:normal">DF</text>
<text transform="translate(179.18,320.10) scale(1.092,1)" style="font-family:'Liberation Serif',serif;font-size:11.5px;font-weight:normal;font-style:normal">Cl</text>
<text transform="translate(191.62,316.80) scale(1.451,1)" style="font-family:'Liberation Serif',serif;font-size:8.0px;font-weight:normal;font-style:normal">+</text>
<text transform="translate(202.73,320.10) scale(1.102,1)" style="font-family:'Liberation Serif',serif;font-size:11.5px;font-weight:normal;font-style:normal">ions</text>
<text transform="translate(226.87,320.10) scale(1.206,1)" style="font-family:'Liberation Serif',serif;font-size:11.5px;font-weight:normal;font-style:normal">SF</text>
<text transform="translate(179.18,330.90) scale(1.092,1)" style="font-family:'Liberation Serif',serif;font-size:11.5px;font-weight:normal;font-style:normal">Cl</text>
<text transform="translate(191.62,327.20) scale(1.451,1)" style="font-family:'Liberation Serif',serif;font-size:8.0px;font-weight:normal;font-style:normal">+</text>
<text transform="translate(202.73,330.90) scale(1.102,1)" style="font-family:'Liberation Serif',serif;font-size:11.5px;font-weight:normal;font-style:normal">ions</text>
<text transform="translate(227.41,330.90) scale(1.182,1)" style="font-family:'Liberation Serif',serif;font-size:11.5px;font-weight:normal;font-style:normal">DF</text>
<g transform="matrix(1.055,0,0,1.055,-11.888,510.340)"><line x1="150.70" y1="12.00" x2="176.80" y2="12.00" stroke="#00ff00" stroke-width="3.0"/>
<line x1="150.90" y1="22.30" x2="173.50" y2="22.30" stroke="#00ff00" stroke-width="3.0" stroke-dasharray="1.0 3.3 5.4 3.2"/>
<line x1="150.70" y1="33.90" x2="176.80" y2="33.90" stroke="#ff0000" stroke-width="3.0"/>
<line x1="150.90" y1="48.00" x2="173.50" y2="48.00" stroke="#ff0000" stroke-width="3.0" stroke-dasharray="1.0 3.3 5.4 3.2"/>
<line x1="150.70" y1="60.00" x2="176.80" y2="60.00" stroke="#000000" stroke-width="3.0"/>
<line x1="150.90" y1="70.60" x2="173.50" y2="70.60" stroke="#000000" stroke-width="3.0" stroke-dasharray="1.0 3.3 5.4 3.2"/>
<text transform="translate(179.00,16.70) scale(1.110,1)" style="font-family:'Liberation Serif',serif;font-size:11.5px;font-weight:normal;font-style:normal">electrons SF</text>
<text transform="translate(179.00,26.90) scale(1.116,1)" style="font-family:'Liberation Serif',serif;font-size:11.5px;font-weight:normal;font-style:normal">electrons DF</text>
<text transform="translate(179.18,37.80) scale(1.092,1)" style="font-family:'Liberation Serif',serif;font-size:11.5px;font-weight:normal;font-style:normal">Cl</text>
<text transform="translate(191.28,41.40) scale(1.247,1)" style="font-family:'Liberation Serif',serif;font-size:7.6px;font-weight:normal;font-style:normal">2</text>
<text transform="translate(191.62,33.20) scale(1.451,1)" style="font-family:'Liberation Serif',serif;font-size:8.0px;font-weight:normal;font-style:normal">+</text>
<text transform="translate(202.73,37.80) scale(1.102,1)" style="font-family:'Liberation Serif',serif;font-size:11.5px;font-weight:normal;font-style:normal">ions</text>
<text transform="translate(226.87,37.80) scale(1.206,1)" style="font-family:'Liberation Serif',serif;font-size:11.5px;font-weight:normal;font-style:normal">SF</text>
<text transform="translate(179.18,52.80) scale(1.092,1)" style="font-family:'Liberation Serif',serif;font-size:11.5px;font-weight:normal;font-style:normal">Cl</text>
<text transform="translate(191.28,56.40) scale(1.247,1)" style="font-family:'Liberation Serif',serif;font-size:7.6px;font-weight:normal;font-style:normal">2</text>
<text transform="translate(191.62,48.00) scale(1.451,1)" style="font-family:'Liberation Serif',serif;font-size:8.0px;font-weight:normal;font-style:normal">+</text>
<text transform="translate(202.73,52.80) scale(1.102,1)" style="font-family:'Liberation Serif',serif;font-size:11.5px;font-weight:normal;font-style:normal">ions</text>
<text transform="translate(227.41,52.80) scale(1.182,1)" style="font-family:'Liberation Serif',serif;font-size:11.5px;font-weight:normal;font-style:normal">DF</text>
<text transform="translate(179.18,64.50) scale(1.092,1)" style="font-family:'Liberation Serif',serif;font-size:11.5px;font-weight:normal;font-style:normal">Cl</text>
<text transform="translate(191.62,61.20) scale(1.451,1)" style="font-family:'Liberation Serif',serif;font-size:8.0px;font-weight:normal;font-style:normal">+</text>
<text transform="translate(202.73,64.50) scale(1.102,1)" style="font-family:'Liberation Serif',serif;font-size:11.5px;font-weight:normal;font-style:normal">ions</text>
<text transform="translate(226.87,64.50) scale(1.206,1)" style="font-family:'Liberation Serif',serif;font-size:11.5px;font-weight:normal;font-style:normal">SF</text>
<text transform="translate(179.18,75.30) scale(1.092,1)" style="font-family:'Liberation Serif',serif;font-size:11.5px;font-weight:normal;font-style:normal">Cl</text>
<text transform="translate(191.62,71.60) scale(1.451,1)" style="font-family:'Liberation Serif',serif;font-size:8.0px;font-weight:normal;font-style:normal">+</text>
<text transform="translate(202.73,75.30) scale(1.102,1)" style="font-family:'Liberation Serif',serif;font-size:11.5px;font-weight:normal;font-style:normal">ions</text>
<text transform="translate(227.41,75.30) scale(1.182,1)" style="font-family:'Liberation Serif',serif;font-size:11.5px;font-weight:normal;font-style:normal">DF</text></g>
<text transform="translate(38.00,171.43) rotate(-90) scale(1.275,1)" style="font-family:'Liberation Serif',serif;font-size:21.8px;font-weight:bold;font-style:normal">J</text>
<text transform="translate(37.70,151.26) rotate(-90) scale(1.048,1)" style="font-family:'Liberation Serif',serif;font-size:21px;font-weight:normal;font-style:normal">&#183;</text>
<text transform="translate(37.70,137.63) rotate(-90) scale(1.142,1)" style="font-family:'Liberation Serif',serif;font-size:21.8px;font-weight:bold;font-style:normal">E</text>
<text transform="translate(39.10,113.00) rotate(-90) scale(0.570,1)" style="font-family:'Liberation Serif',serif;font-size:26px;font-weight:normal;font-style:normal">[</text>
<text transform="translate(37.70,107.98) rotate(-90) scale(0.941,1)" style="font-family:'Liberation Serif',serif;font-size:21px;font-weight:normal;font-style:normal">k</text>
<text transform="translate(37.70,97.12) rotate(-90) scale(1.019,1)" style="font-family:'Liberation Serif',serif;font-size:21.8px;font-weight:normal;font-style:normal">W</text>
<text transform="translate(42.40,74.20) rotate(-90) scale(0.900,1)" style="font-family:'Liberation Serif',serif;font-size:32px;font-weight:normal;font-style:normal">/</text>
<text transform="translate(37.70,64.57) rotate(-90) scale(1.073,1)" style="font-family:'Liberation Serif',serif;font-size:21px;font-weight:normal;font-style:normal">m</text>
<text transform="translate(30.10,47.52) rotate(-90) scale(1.123,1)" style="font-family:'Liberation Serif',serif;font-size:15.3px;font-weight:normal;font-style:normal">3</text>
<text transform="translate(39.10,38.94) rotate(-90) scale(0.570,1)" style="font-family:'Liberation Serif',serif;font-size:26px;font-weight:normal;font-style:normal">]</text>
<g transform="translate(0,255.2)"><text transform="translate(38.00,171.43) rotate(-90) scale(1.275,1)" style="font-family:'Liberation Serif',serif;font-size:21.8px;font-weight:bold;font-style:normal">J</text>
<text transform="translate(37.70,151.26) rotate(-90) scale(1.048,1)" style="font-family:'Liberation Serif',serif;font-size:21px;font-weight:normal;font-style:normal">&#183;</text>
<text transform="translate(37.70,137.63) rotate(-90) scale(1.142,1)" style="font-family:'Liberation Serif',serif;font-size:21.8px;font-weight:bold;font-style:normal">E</text>
<text transform="translate(39.10,113.00) rotate(-90) scale(0.570,1)" style="font-family:'Liberation Serif',serif;font-size:26px;font-weight:normal;font-style:normal">[</text>
<text transform="translate(37.70,107.98) rotate(-90) scale(0.941,1)" style="font-family:'Liberation Serif',serif;font-size:21px;font-weight:normal;font-style:normal">k</text>
<text transform="translate(37.70,97.12) rotate(-90) scale(1.019,1)" style="font-family:'Liberation Serif',serif;font-size:21.8px;font-weight:normal;font-style:normal">W</text>
<text transform="translate(42.40,74.20) rotate(-90) scale(0.900,1)" style="font-family:'Liberation Serif',serif;font-size:32px;font-weight:normal;font-style:normal">/</text>
<text transform="translate(37.70,64.57) rotate(-90) scale(1.073,1)" style="font-family:'Liberation Serif',serif;font-size:21px;font-weight:normal;font-style:normal">m</text>
<text transform="translate(30.10,47.52) rotate(-90) scale(1.123,1)" style="font-family:'Liberation Serif',serif;font-size:15.3px;font-weight:normal;font-style:normal">3</text>
<text transform="translate(39.10,38.94) rotate(-90) scale(0.570,1)" style="font-family:'Liberation Serif',serif;font-size:26px;font-weight:normal;font-style:normal">]</text></g>
<g transform="matrix(1.07,0,0,1.067,-21.34,503.27)"><text transform="translate(38.00,171.43) rotate(-90) scale(1.275,1)" style="font-family:'Liberation Serif',serif;font-size:21.8px;font-weight:bold;font-style:normal">J</text>
<text transform="translate(37.70,151.26) rotate(-90) scale(1.048,1)" style="font-family:'Liberation Serif',serif;font-size:21px;font-weight:normal;font-style:normal">&#183;</text>
<text transform="translate(37.70,137.63) rotate(-90) scale(1.142,1)" style="font-family:'Liberation Serif',serif;font-size:21.8px;font-weight:bold;font-style:normal">E</text>
<text transform="translate(39.10,113.00) rotate(-90) scale(0.570,1)" style="font-family:'Liberation Serif',serif;font-size:26px;font-weight:normal;font-style:normal">[</text>
<text transform="translate(37.70,107.98) rotate(-90) scale(0.941,1)" style="font-family:'Liberation Serif',serif;font-size:21px;font-weight:normal;font-style:normal">k</text>
<text transform="translate(37.70,97.12) rotate(-90) scale(1.019,1)" style="font-family:'Liberation Serif',serif;font-size:21.8px;font-weight:normal;font-style:normal">W</text>
<text transform="translate(42.40,74.20) rotate(-90) scale(0.900,1)" style="font-family:'Liberation Serif',serif;font-size:32px;font-weight:normal;font-style:normal">/</text>
<text transform="translate(37.70,64.57) rotate(-90) scale(1.073,1)" style="font-family:'Liberation Serif',serif;font-size:21px;font-weight:normal;font-style:normal">m</text>
<text transform="translate(30.10,47.52) rotate(-90) scale(1.123,1)" style="font-family:'Liberation Serif',serif;font-size:15.3px;font-weight:normal;font-style:normal">3</text>
<text transform="translate(39.10,38.94) rotate(-90) scale(0.570,1)" style="font-family:'Liberation Serif',serif;font-size:26px;font-weight:normal;font-style:normal">]</text></g>
<text transform="translate(171.07,234.60) scale(1.040,1)" style="font-family:'Liberation Serif',serif;font-size:21px;font-weight:normal;font-style:italic">x</text>
<text transform="translate(190.37,235.80) scale(0.587,1)" style="font-family:'Liberation Serif',serif;font-size:26px;font-weight:normal;font-style:normal">[</text>
<text transform="translate(194.95,234.80) scale(1.068,1)" style="font-family:'Liberation Serif',serif;font-size:21px;font-weight:normal;font-style:normal">cm</text>
<text transform="translate(222.41,235.80) scale(0.518,1)" style="font-family:'Liberation Serif',serif;font-size:26px;font-weight:normal;font-style:normal">]</text>
<g transform="translate(0,255.8)"><text transform="translate(171.07,234.60) scale(1.040,1)" style="font-family:'Liberation Serif',serif;font-size:21px;font-weight:normal;font-style:italic">x</text>
<text transform="translate(190.37,235.80) scale(0.587,1)" style="font-family:'Liberation Serif',serif;font-size:26px;font-weight:normal;font-style:normal">[</text>
<text transform="translate(194.95,234.80) scale(1.068,1)" style="font-family:'Liberation Serif',serif;font-size:21px;font-weight:normal;font-style:normal">cm</text>
<text transform="translate(222.41,235.80) scale(0.518,1)" style="font-family:'Liberation Serif',serif;font-size:26px;font-weight:normal;font-style:normal">]</text></g>
<g transform="matrix(1.06,0,0,1.06,-12.40,498.5)"><text transform="translate(171.07,234.60) scale(1.040,1)" style="font-family:'Liberation Serif',serif;font-size:21px;font-weight:normal;font-style:italic">x</text>
<text transform="translate(190.37,235.80) scale(0.587,1)" style="font-family:'Liberation Serif',serif;font-size:26px;font-weight:normal;font-style:normal">[</text>
<text transform="translate(194.95,234.80) scale(1.068,1)" style="font-family:'Liberation Serif',serif;font-size:21px;font-weight:normal;font-style:normal">cm</text>
<text transform="translate(222.41,235.80) scale(0.518,1)" style="font-family:'Liberation Serif',serif;font-size:26px;font-weight:normal;font-style:normal">]</text></g></svg>
</body></html>
